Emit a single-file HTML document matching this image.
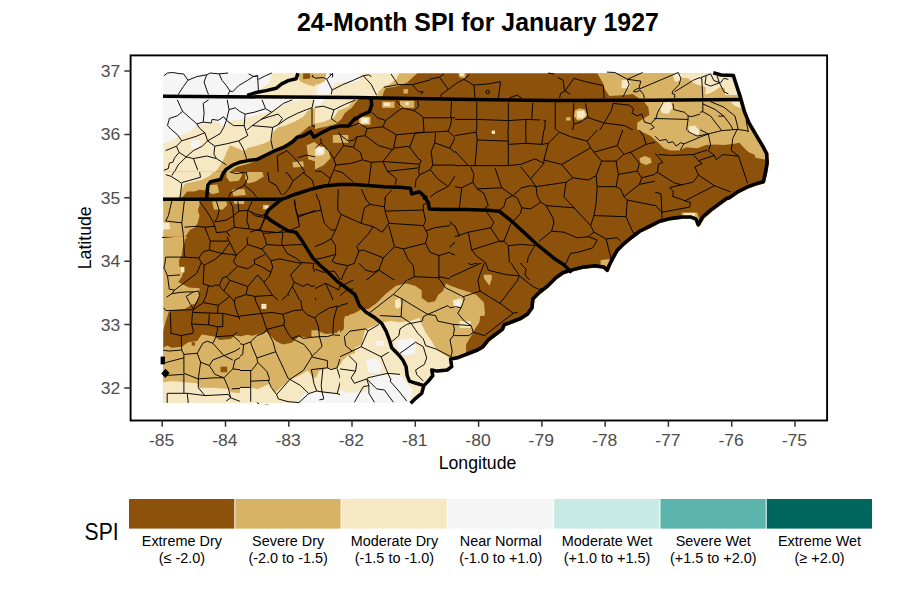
<!DOCTYPE html><html><head><meta charset="utf-8"><title>24-Month SPI</title><style>
html,body{margin:0;padding:0;background:#fff;}body{width:900px;height:600px;position:relative;overflow:hidden;font-family:"Liberation Sans",sans-serif;}
svg{position:absolute;left:0;top:0;}text{font-family:"Liberation Sans",sans-serif;}
</style></head><body>
<svg width="900" height="600" viewBox="0 0 900 600">
<rect width="900" height="600" fill="#fff"/>
<defs><mask id="landm" maskUnits="userSpaceOnUse" x="0" y="0" width="900" height="600"><polygon points="163.2,73.2 713.3,72.8 721.1,75.0 733.3,75.4 735.6,82.8 740.0,96.1 744.4,111.7 748.9,122.8 756.7,136.1 763.3,147.2 766.7,153.9 767.1,162.8 765.6,171.7 763.3,181.7 755.6,183.9 746.7,187.2 737.8,191.7 728.9,197.9 727.2,198.0 719.4,203.6 710.6,210.2 702.8,216.9 698.3,224.7 696.1,219.1 690.6,216.9 681.7,216.9 670.6,218.4 659.4,221.3 648.3,226.9 639.4,231.3 630.6,238.0 623.9,243.6 617.2,250.2 612.8,258.0 609.4,264.7 607.2,270.2 603.9,266.9 595.0,265.8 583.9,266.9 572.8,269.6 563.1,272.5 556.0,277.5 547.0,286.4 538.1,293.5 532.8,298.9 531.9,307.8 527.4,314.0 520.3,318.5 511.4,322.0 504.2,324.7 502.4,329.2 495.3,334.5 488.2,339.9 482.8,346.7 477.2,350.0 466.1,354.4 457.2,357.8 450.6,358.9 451.7,366.7 447.2,370.0 437.2,371.1 431.7,370.0 432.8,375.6 428.3,381.1 423.9,385.6 423.9,385.6 421.7,393.3 415.0,398.9 410.6,403.3 163.2,403.0" fill="#fff" stroke="#fff" stroke-width="4" stroke-linejoin="round"/></mask><clipPath id="rast"><rect x="163.2" y="73.2" width="620" height="329.8"/></clipPath><clipPath id="cA"><rect x="155.0" y="65.0" width="200.0" height="133.0"/></clipPath><clipPath id="h0"><path clip-rule="evenodd" d="M0 0H900V600H0ZM155.0 65.0H315.0V172.0H155.0Z"/></clipPath><clipPath id="h1"><path clip-rule="evenodd" d="M0 0H900V600H0ZM155.0 172.0H315.0V237.0H155.0Z"/></clipPath><clipPath id="h2"><path clip-rule="evenodd" d="M0 0H900V600H0ZM315.0 100.0H455.0V199.5H315.0Z"/></clipPath><clipPath id="h3"><path clip-rule="evenodd" d="M0 0H900V600H0ZM315.0 65.0H430.0V100.0H315.0Z"/></clipPath><clipPath id="cB"><rect x="355.0" y="65.0" width="200.0" height="133.0"/></clipPath><clipPath id="h4"><path clip-rule="evenodd" d="M0 0H900V600H0ZM455.0 130.0H655.0V263.0H455.0Z"/></clipPath><clipPath id="h5"><path clip-rule="evenodd" d="M0 0H900V600H0ZM540.0 65.0H700.0V130.0H540.0Z"/></clipPath><clipPath id="cC"><rect x="555.0" y="65.0" width="200.0" height="133.0"/></clipPath><clipPath id="h6"><path clip-rule="evenodd" d="M0 0H900V600H0ZM655.0 150.0H780.0V262.0H655.0Z"/></clipPath><clipPath id="cD"><rect x="755.0" y="65.0" width="125.0" height="133.0"/></clipPath><clipPath id="cE"><rect x="155.0" y="198.0" width="200.0" height="118.0"/></clipPath><clipPath id="h7"><path clip-rule="evenodd" d="M0 0H900V600H0ZM250.0 199.5H450.0V303.0H250.0Z"/></clipPath><clipPath id="h8"><path clip-rule="evenodd" d="M0 0H900V600H0ZM340.0 280.0H540.0V404.0H340.0Z"/></clipPath><clipPath id="h9"><path clip-rule="evenodd" d="M0 0H900V600H0ZM155.0 237.0H315.0V332.0H155.0Z"/></clipPath><clipPath id="h10"><path clip-rule="evenodd" d="M0 0H900V600H0ZM240.0 300.0H340.0V404.0H240.0Z"/></clipPath><clipPath id="cF"><rect x="355.0" y="198.0" width="200.0" height="118.0"/></clipPath><clipPath id="cG"><rect x="555.0" y="198.0" width="200.0" height="118.0"/></clipPath><clipPath id="cH"><rect x="155.0" y="316.0" width="200.0" height="117.0"/></clipPath><clipPath id="cI"><rect x="355.0" y="316.0" width="200.0" height="117.0"/></clipPath><clipPath id="cP1"><rect x="250.0" y="199.5" width="200.0" height="103.5"/></clipPath><clipPath id="cP2"><rect x="295.0" y="375.0" width="135.0" height="28.2"/></clipPath><clipPath id="cP3"><rect x="340.0" y="280.0" width="200.0" height="124.0"/></clipPath><clipPath id="cP4"><rect x="455.0" y="130.0" width="200.0" height="133.0"/></clipPath><clipPath id="cP5"><rect x="540.0" y="65.0" width="160.0" height="65.0"/></clipPath><clipPath id="cP6"><rect x="155.0" y="65.0" width="160.0" height="107.0"/></clipPath><clipPath id="cP7"><rect x="155.0" y="172.0" width="160.0" height="65.0"/></clipPath><clipPath id="cP8"><rect x="315.0" y="100.0" width="140.0" height="99.5"/></clipPath><clipPath id="cP9"><rect x="155.0" y="237.0" width="160.0" height="95.0"/></clipPath><clipPath id="cP10"><rect x="655.0" y="150.0" width="125.0" height="112.0"/></clipPath><clipPath id="cP12"><rect x="240.0" y="300.0" width="100.0" height="104.0"/></clipPath><clipPath id="cP13"><rect x="315.0" y="65.0" width="115.0" height="70.0"/></clipPath></defs>
<g clip-path="url(#rast)"><g mask="url(#landm)">
<rect x="150" y="60" width="650" height="360" fill="#8C510A"/>
<g clip-path="url(#cA)">
<polygon points="163.2,73.2 355.0,73.2 355.0,106.1 350.6,108.3 346.1,112.8 339.4,118.3 332.8,121.7 323.9,125.0 317.2,129.4 310.6,128.3 303.9,132.8 297.2,135.0 291.7,139.4 283.9,145.0 275.0,148.3 266.1,153.9 259.4,158.3 252.8,159.4 243.9,160.6 237.2,162.8 228.3,166.1 221.7,169.4 219.4,173.9 210.6,178.3 206.6,182.8 199.4,186.1 192.8,189.4 183.9,190.6 177.2,197.9 163.2,197.9" fill="#D8B365"/>
<polygon points="228.3,171.7 239.4,169.4 252.8,169.4 261.7,171.7 263.9,176.1 255.0,180.6 243.9,182.8 230.6,181.7 226.1,176.1" fill="#D8B365"/>
<polygon points="208.3,186.1 219.4,185.0 219.4,195.0 209.4,196.1" fill="#D8B365"/>
<polygon points="299.4,140.6 310.6,138.3 315.0,142.8 321.7,147.2 328.3,149.4 330.6,158.3 323.9,165.0 315.0,169.4 308.3,167.2 303.9,160.6 299.4,153.9 297.2,147.2" fill="#D8B365"/>
<polygon points="288.3,160.6 299.4,160.6 299.4,167.2 288.3,167.2" fill="#D8B365"/>
<polygon points="332.8,131.7 348.3,131.7 348.3,142.8 332.8,142.8" fill="#D8B365"/>
<polygon points="229.4,197.9 232.8,191.7 243.9,189.4 252.8,192.8 255.0,197.9" fill="#D8B365"/>
<polygon points="163.2,73.2 355.0,73.2 355.0,100.6 346.1,103.9 337.2,108.3 328.3,110.6 317.2,112.8 310.6,115.0 306.1,120.6 299.4,125.0 292.8,129.4 288.3,133.9 279.4,135.0 272.8,138.3 266.1,142.8 259.4,146.1 252.8,147.2 246.1,150.6 239.4,147.2 232.8,148.3 228.3,153.9 226.1,160.6 219.4,166.1 210.6,169.4 203.9,175.0 199.4,180.6 192.8,183.9 186.1,188.3 179.4,191.7 176.1,197.9 163.2,197.9" fill="#F6E8C3"/>
<polygon points="301.7,73.9 323.9,73.9 321.7,82.8 310.6,86.1 299.4,82.8" fill="#D8B365"/>
<polygon points="302.8,73.2 315.0,73.2 313.9,77.9 303.9,78.3" fill="#8C510A"/>
<polygon points="315.2,146.8 324.6,146.8 324.6,153.9 320.6,155.7 315.2,155.2" fill="#F6E8C3"/>
<polygon points="317.9,148.1 322.3,148.1 322.3,152.6 317.9,152.6" fill="#F5F5F5"/>
<polygon points="163.2,73.2 271.7,73.2 263.2,85.0 246.6,95.0 246.6,98.3 308.3,99.2 291.7,101.7 278.3,107.2 271.7,113.2 259.9,118.3 245.0,120.6 237.2,121.7 231.7,123.9 228.3,118.3 221.7,119.4 206.1,123.2 197.2,125.0 196.1,129.4 188.3,131.7 177.2,136.1 163.2,139.4" fill="#F5F5F5"/>
<polygon points="332.8,73.2 355.0,73.2 355.0,81.7 346.1,83.9 335.0,87.2 332.8,95.0 315.0,95.0 313.9,87.2 323.9,80.6" fill="#F5F5F5"/>
<polygon points="190.6,140.6 201.7,137.2 203.9,142.8 197.2,148.3 190.6,147.2" fill="#F5F5F5"/>
</g>
<g clip-path="url(#cB)">
<polygon points="355.0,73.2 419.4,73.2 415.0,77.2 408.3,81.7 403.9,86.1 395.0,88.3 388.3,89.4 383.9,93.9 377.2,95.0 368.3,96.1 355.0,106.1" fill="#D8B365"/>
<polygon points="355.0,73.2 399.4,73.2 395.0,78.3 388.3,80.6 381.7,83.9 375.0,87.2 366.1,90.6 361.7,93.9 355.0,96.1" fill="#F6E8C3"/>
<polygon points="355.0,75.0 361.7,73.9 363.9,78.3 359.4,85.0 355.0,87.2" fill="#F5F5F5"/>
<polygon points="381.7,101.7 395.0,101.7 395.0,107.2 381.7,107.2" fill="#D8B365"/>
<polygon points="382.8,102.3 388.3,102.3 388.3,106.1 382.8,106.1" fill="#F6E8C3"/>
<polygon points="399.4,100.6 415.0,100.6 415.0,108.3 399.4,108.3" fill="#D8B365"/>
<polygon points="405.0,101.7 409.4,101.7 409.4,106.1 405.0,106.1" fill="#F6E8C3"/>
<polygon points="359.4,116.1 370.6,116.1 370.6,123.9 359.4,123.9" fill="#D8B365"/>
<polygon points="361.2,117.2 367.9,117.2 367.9,122.3 361.2,122.3" fill="#F6E8C3"/>
<polygon points="362.8,117.9 366.1,117.9 366.1,121.0 362.8,121.0" fill="#F5F5F5"/>
<polygon points="458.3,73.2 466.1,73.2 465.0,78.3 459.4,77.2" fill="#D8B365"/>
<polygon points="459.4,73.2 464.3,73.2 463.9,76.1 460.1,76.1" fill="#F6E8C3"/>
<polygon points="491.7,130.6 495.0,130.6 495.0,133.9 491.7,133.9" fill="#F6E8C3"/>
<polygon points="403.9,89.4 408.3,89.4 408.3,93.9 403.9,93.9" fill="#D8B365"/>
</g>
<g clip-path="url(#cC)">
<polygon points="597.2,73.2 602.8,82.8 605.0,89.4 609.4,96.1 626.1,95.0 632.8,93.9 643.9,101.7 648.3,107.2 649.4,115.0 643.9,118.3 637.2,122.8 637.2,129.4 643.9,132.8 650.6,136.1 658.3,142.8 663.9,148.3 670.6,150.6 679.4,150.6 686.1,147.2 697.2,148.3 706.1,145.0 715.0,144.6 723.9,145.0 732.8,144.1 739.4,142.8 743.9,147.7 748.3,152.1 755.0,155.0 755.0,73.2" fill="#D8B365"/>
<polygon points="621.7,80.6 627.2,79.4 630.6,82.8 629.4,88.3 621.7,88.3" fill="#F6E8C3"/>
<polygon points="672.8,75.0 680.6,75.0 681.7,80.6 675.0,81.7" fill="#F6E8C3"/>
<polygon points="661.7,102.8 670.6,101.7 672.8,107.2 668.3,113.9 661.7,112.8 659.4,107.2" fill="#F6E8C3"/>
<polygon points="688.8,126.6 695.0,125.4 699.4,130.6 699.0,134.6 692.8,135.0 688.3,131.7" fill="#F6E8C3"/>
<polygon points="672.8,73.2 715.0,73.2 732.8,75.0 735.4,81.7 739.4,95.0 725.0,95.0 725.0,88.3 719.4,87.2 715.0,90.6 708.3,93.9 705.0,93.9 706.1,87.2 701.7,86.1 692.8,82.8 688.3,78.3 675.0,77.2" fill="#F6E8C3"/>
<polygon points="730.6,101.7 739.4,101.7 741.7,108.3 735.0,106.1" fill="#F6E8C3"/>
<polygon points="575.0,110.6 579.4,108.3 585.0,109.4 587.2,115.0 583.9,119.4 577.2,120.6 573.9,116.1" fill="#D8B365"/>
<polygon points="576.8,111.2 583.9,110.6 585.7,115.0 582.8,118.3 577.2,118.3" fill="#F6E8C3"/>
<polygon points="566.1,117.2 570.6,117.2 570.6,120.6 566.1,120.6" fill="#D8B365"/>
<polygon points="639.4,158.3 645.0,156.1 650.6,158.3 651.7,162.8 646.1,165.0 640.6,162.8" fill="#D8B365"/>
</g>
<g clip-path="url(#cD)">
<polygon points="680.0,73.2 780.0,73.2 780.0,159.4 764.4,159.4 757.8,158.3 751.1,156.1 744.4,152.8 740.0,146.1 733.3,143.9 724.4,146.1 708.9,147.2 702.2,146.1 693.3,148.3 680.0,149.4" fill="#D8B365"/>
<polygon points="688.9,73.2 713.3,73.2 733.3,75.4 736.0,82.8 739.6,95.0 724.4,95.0 724.4,88.3 715.6,87.2 706.7,92.8 704.9,93.9 705.6,87.2 697.8,85.0 693.3,78.3" fill="#F6E8C3"/>
<polygon points="731.1,101.7 738.9,101.7 741.1,108.3 735.6,106.1" fill="#F6E8C3"/>
</g>
<g clip-path="url(#cE)">
<polygon points="163.2,200.2 182.8,200.2 183.4,206.9 190.6,208.0 200.6,209.1 200.6,220.2 196.1,226.9 188.3,233.6 185.0,240.2 183.9,249.1 181.7,255.8 178.3,259.1 178.3,265.8 182.8,268.0 185.0,273.6 181.7,280.2 177.2,283.6 188.3,283.6 188.3,289.1 197.2,288.0 200.6,291.3 200.6,298.0 197.2,302.4 190.6,306.9 186.1,309.1 177.2,310.2 170.6,311.3 170.6,330.9 163.2,330.9" fill="#D8B365"/>
<polygon points="181.7,201.3 185.0,201.3 185.7,206.9 182.1,206.9" fill="#8C510A"/>
<polygon points="210.6,201.3 243.9,200.2 243.9,203.6 230.6,204.7 223.9,209.1 212.8,210.2" fill="#D8B365"/>
<polygon points="219.4,200.2 243.9,200.2 243.9,202.4 228.3,203.6 220.6,205.8" fill="#F6E8C3"/>
<polygon points="263.4,204.2 268.3,204.2 268.3,209.1 263.4,209.1" fill="#D8B365"/>
<polygon points="163.2,222.4 170.6,222.4 170.6,228.0 163.2,228.0" fill="#F6E8C3"/>
<polygon points="188.3,291.3 198.3,289.1 200.6,295.8 197.2,300.2 190.6,298.0" fill="#F6E8C3"/>
<polygon points="260.6,303.6 266.1,303.6 266.1,309.1 260.6,309.1" fill="#D8B365"/>
<polygon points="261.7,304.7 265.0,304.7 265.0,308.0 261.7,308.0" fill="#F6E8C3"/>
<polygon points="343.9,330.9 345.0,320.2 349.4,314.7 355.0,313.1 355.0,330.9" fill="#D8B365"/>
<polygon points="348.3,330.9 349.4,320.2 355.0,318.0 355.0,330.9" fill="#F6E8C3"/>
</g>
<g clip-path="url(#cF)">
<polygon points="355.0,313.1 361.7,309.1 368.3,309.1 377.2,302.4 386.1,293.6 396.1,285.8 406.1,283.6 415.0,285.8 421.7,290.2 421.7,298.0 428.3,302.4 435.0,301.3 438.3,294.7 442.8,291.3 446.1,283.6 450.6,285.8 459.4,289.1 470.6,292.4 476.1,294.7 483.9,302.4 485.0,313.6 481.7,322.4 483.9,330.9 355.0,330.9" fill="#D8B365"/>
<polygon points="395.0,300.2 399.4,298.0 401.7,304.7 398.3,309.1 395.0,306.9" fill="#F6E8C3"/>
<polygon points="452.8,300.2 460.6,298.0 463.9,302.4 459.4,308.0 453.9,308.0" fill="#F6E8C3"/>
<polygon points="455.0,302.0 459.4,300.7 460.6,304.7 456.1,305.8" fill="#F5F5F5"/>
<polygon points="383.9,330.9 386.1,324.7 395.0,325.8 402.8,330.9" fill="#F6E8C3"/>
<polygon points="459.4,322.4 468.3,320.2 475.0,324.7 476.1,330.9 459.4,330.9" fill="#F6E8C3"/>
<polygon points="355.0,318.0 361.7,319.1 363.9,330.9 355.0,330.9" fill="#F6E8C3"/>
<polygon points="483.9,274.7 491.7,274.7 491.7,279.1 489.4,285.8 486.1,281.3 483.9,278.0" fill="#D8B365"/>
</g>
<g clip-path="url(#cG)">
<polygon points="681.7,212.4 697.2,212.4 699.4,220.2 695.0,222.4 681.7,220.2" fill="#D8B365"/>
<polygon points="683.9,213.1 695.0,213.1 695.0,215.8 683.9,215.8" fill="#F6E8C3"/>
<polygon points="600.6,260.2 609.4,259.1 609.4,266.9 600.6,265.8" fill="#D8B365"/>
</g>
<g clip-path="url(#cH)">
<polygon points="163.2,300.0 188.3,300.0 186.1,310.0 170.6,312.2 169.4,324.4 163.2,325.6" fill="#D8B365"/>
<polygon points="163.2,347.8 167.2,345.6 171.7,347.8 181.7,346.7 188.3,342.2 197.2,341.1 201.7,334.4 208.3,335.6 215.0,336.7 219.4,340.0 230.6,338.9 235.0,335.6 243.9,336.7 252.8,333.3 263.9,333.3 270.6,340.0 279.4,344.4 286.1,343.3 290.6,340.0 297.2,337.8 301.7,335.6 310.6,336.7 319.4,335.6 323.9,333.3 330.6,334.4 339.4,333.3 343.9,328.9 343.9,320.0 346.1,312.2 355.0,310.0 355.0,402.9 163.2,402.9" fill="#D8B365"/>
<polygon points="260.6,303.3 266.1,303.3 266.1,308.9 260.6,308.9" fill="#F6E8C3"/>
<polygon points="310.6,330.0 318.3,330.0 318.3,336.7 310.6,336.7" fill="#D8B365"/>
<polygon points="220.6,366.7 227.2,366.7 227.2,372.2 220.6,372.2" fill="#8C510A"/>
<polygon points="191.7,342.2 195.0,342.2 195.0,345.6 191.7,345.6" fill="#8C510A"/>
<polygon points="163.2,382.2 172.8,381.1 183.9,382.2 197.2,383.3 199.4,387.8 212.8,387.8 228.3,388.9 230.6,392.2 239.4,393.3 250.6,391.1 250.6,386.7 259.4,385.6 268.3,386.7 270.6,391.1 276.1,394.4 283.9,386.7 292.8,380.0 299.4,376.7 310.6,375.6 312.8,371.1 323.9,370.0 330.6,368.9 339.4,366.7 342.8,360.0 348.3,355.6 355.0,353.3 355.0,402.9 163.2,402.9" fill="#F6E8C3"/>
<polygon points="299.4,397.8 303.9,393.3 310.6,390.0 319.4,391.1 328.3,388.9 339.4,388.9 348.3,393.3 355.0,395.6 355.0,402.9 299.4,402.9" fill="#F5F5F5"/>
</g>
<g clip-path="url(#cI)">
<polygon points="355.0,310.0 363.9,307.8 372.8,304.4 380.6,300.0 486.1,300.0 480.6,313.3 479.4,322.2 475.0,328.9 470.6,336.7 466.1,344.4 466.1,353.3 466.1,366.7 455.0,403.3 355.0,403.3" fill="#D8B365"/>
<polygon points="355.0,347.8 361.7,344.4 365.0,330.0 377.2,324.4 382.8,322.2 390.6,321.1 399.4,322.2 410.6,321.1 419.4,317.8 421.7,324.4 426.1,333.3 431.7,341.1 436.1,348.9 443.9,354.4 450.6,358.9 461.7,366.7 455.0,403.3 355.0,403.3" fill="#F6E8C3"/>
<polygon points="396.1,300.0 402.1,300.0 402.8,306.7 397.2,308.9" fill="#F6E8C3"/>
<polygon points="453.9,300.0 461.7,300.0 461.7,305.6 455.0,305.6" fill="#F6E8C3"/>
<polygon points="459.4,321.1 470.6,321.1 470.6,327.8 459.4,327.8" fill="#F6E8C3"/>
<polygon points="395.0,341.1 412.8,337.8 416.1,344.4 415.0,353.3 406.1,355.6 399.4,352.2" fill="#F5F5F5"/>
<polygon points="366.1,360.0 377.2,357.8 381.7,366.7 379.4,373.3 368.3,372.2" fill="#F5F5F5"/>
<polygon points="368.3,375.6 399.4,374.4 408.3,384.4 412.8,388.9 410.6,397.8 406.1,403.3 368.3,403.3 363.9,393.3 370.6,384.4" fill="#F5F5F5"/>
<polygon points="376.1,341.1 383.9,341.1 383.9,345.6 376.1,345.6" fill="#F5F5F5"/>
</g>
<g clip-path="url(#cP1)">
</g>
<g clip-path="url(#cP2)">
<polygon points="300.0,403.3 303.3,396.7 313.3,391.7 326.7,389.3 343.3,393.3 366.7,391.7 380.0,386.7 390.0,380.0 400.0,376.7 408.3,386.7 411.7,403.3" fill="#F5F5F5"/>
</g>
<g clip-path="url(#cP3)">
</g>
<g clip-path="url(#cP4)">
</g>
<g clip-path="url(#cP5)">
</g>
<g clip-path="url(#cP6)">
<polygon points="155.0,65.0 315.5,65.0 315.5,172.0 155.0,172.0" fill="#8C510A"/>
<polygon points="162.1,73.0 315.0,73.0 315.0,123.9 308.4,126.5 301.3,132.8 294.1,138.1 287.0,143.5 278.1,148.8 270.9,152.4 262.0,157.8 254.9,161.3 247.8,164.0 237.1,166.7 229.9,171.7 162.1,171.7" fill="#D8B365"/>
<polygon points="162.1,73.0 315.0,73.0 315.0,107.8 308.4,110.5 303.1,116.7 294.1,122.1 285.2,125.6 278.1,127.4 272.7,132.8 271.8,139.9 263.8,143.5 254.9,146.2 247.8,147.9 244.2,151.5 237.1,147.9 229.9,145.3 226.4,152.4 222.8,161.3 215.6,171.7 162.1,171.7" fill="#F6E8C3"/>
<polygon points="297.7,73.0 315.0,73.0 315.0,86.4 306.6,84.6 299.5,81.1" fill="#D8B365"/>
<polygon points="303.1,73.0 310.2,73.0 310.2,78.4 303.1,79.3" fill="#8C510A"/>
<polygon points="162.1,73.0 271.8,73.0 269.2,82.8 262.0,88.2 247.8,95.0 247.8,98.9 315.0,98.9 301.3,100.1 290.6,101.9 279.9,106.4 272.7,110.0 262.0,113.5 254.9,115.3 244.2,118.9 229.9,120.7 223.7,126.9 217.4,121.5 204.9,124.2 195.1,126.0 190.7,131.4 180.0,135.8 172.8,140.3 162.1,143.8" fill="#F5F5F5"/>
<polygon points="190.7,140.8 199.6,139.9 199.6,147.9 191.6,148.8" fill="#F5F5F5"/>
<polygon points="306.6,145.3 315.0,141.7 315.0,161.3 308.4,159.5" fill="#D8B365"/>
<polygon points="292.4,162.2 303.1,161.3 303.9,166.7 293.2,167.6" fill="#D8B365"/>
</g>
<g clip-path="url(#cP7)">
<polygon points="155.0,130.0 315.5,130.0 315.5,237.0 155.0,237.0" fill="#8C510A"/>
<polygon points="162.1,165.7 229.9,165.7 223.7,171.9 221.0,178.2 210.3,180.8 206.7,187.1 204.9,190.6 199.6,189.8 194.2,191.5 187.1,191.5 184.4,195.1 181.8,197.8 162.1,197.8" fill="#D8B365"/>
<polygon points="162.1,165.7 221.0,165.7 213.9,171.9 208.5,176.4 201.4,179.9 194.2,181.7 185.3,183.5 181.8,188.9 180.0,194.2 178.2,197.8 162.1,197.8" fill="#F6E8C3"/>
<polygon points="162.1,198.7 199.6,198.7 199.6,204.9 197.8,210.3 199.6,215.6 197.8,222.8 195.1,227.2 189.8,229.9 185.3,236.7 162.1,236.7" fill="#D8B365"/>
<polygon points="162.1,222.8 169.3,222.8 170.2,229.0 162.1,229.9" fill="#F6E8C3"/>
<polygon points="226.4,170.1 238.8,170.1 239.7,172.8 242.4,174.6 238.8,180.8 229.9,181.7 226.4,177.3" fill="#D8B365"/>
<polygon points="246.0,170.1 262.0,170.7 263.8,176.4 254.9,181.7 247.8,183.5 245.1,178.2" fill="#D8B365"/>
<polygon points="208.5,185.3 217.4,184.4 219.2,192.4 212.1,194.2 208.5,191.5" fill="#D8B365"/>
<polygon points="231.7,189.8 244.2,188.9 246.0,195.1 233.5,196.0" fill="#D8B365"/>
<polygon points="212.1,201.4 226.4,201.4 227.2,204.9 222.8,209.4 213.9,209.4" fill="#D8B365"/>
<polygon points="233.5,200.5 244.2,200.5 244.2,204.0 234.4,204.0" fill="#D8B365"/>
<polygon points="262.9,204.9 269.2,204.9 269.2,209.4 262.9,209.4" fill="#D8B365"/>
<polygon points="264.7,205.8 267.4,205.8 267.4,208.5 264.7,208.5" fill="#F6E8C3"/>
<polygon points="292.4,162.1 303.1,162.1 303.1,168.4 294.1,167.5" fill="#D8B365"/>
</g>
<g clip-path="url(#cP8)">
</g>
<g clip-path="url(#cP9)">
<polygon points="155.0,225.0 315.5,225.0 315.5,332.0 155.0,332.0" fill="#8C510A"/>
<polygon points="162.1,225.0 195.1,225.0 190.7,232.1 185.3,239.3 182.6,248.2 181.8,255.3 179.1,259.8 179.1,266.0 184.4,269.6 181.8,276.7 178.2,282.1 188.9,287.4 199.6,288.3 199.6,296.4 195.1,303.5 190.7,305.3 185.3,308.8 178.2,309.7 169.3,310.6 165.7,321.3 163.0,331.7 162.1,331.7" fill="#D8B365"/>
<polygon points="162.1,225.0 170.2,225.0 169.3,228.6 162.1,228.6" fill="#F6E8C3"/>
<polygon points="180.9,266.9 184.4,266.9 184.4,272.3 180.9,272.3" fill="#F6E8C3"/>
<polygon points="261.1,304.4 266.5,304.4 266.5,308.8 261.1,308.8" fill="#D8B365"/>
<polygon points="310.2,329.4 315.5,328.5 315.5,332.0 310.2,332.0" fill="#D8B365"/>
</g>
<g clip-path="url(#cP10)">
</g>
<g clip-path="url(#cP12)">
<polygon points="240.0,300.0 400.5,300.0 400.5,407.0 240.0,407.0" fill="#8C510A"/>
<polygon points="240.0,336.6 247.1,334.8 252.5,335.7 263.2,333.0 266.8,332.1 275.7,341.0 282.8,344.6 291.7,342.8 298.9,336.6 311.4,337.5 318.5,331.2 325.6,333.9 336.3,333.0 343.5,326.8 347.0,316.1 354.2,312.5 361.3,310.7 361.3,407.0 240.0,407.0" fill="#D8B365"/>
<polygon points="240.0,387.4 250.7,387.4 257.8,389.2 269.4,383.8 274.8,392.8 281.0,387.4 289.9,379.4 300.6,374.9 307.8,370.5 313.1,378.5 316.7,376.7 318.5,371.4 325.6,368.7 336.3,368.7 341.7,362.4 347.0,355.3 354.2,351.7 361.3,348.2 361.3,407.0 240.0,407.0" fill="#F6E8C3"/>
<polygon points="298.9,403.5 301.5,396.3 309.6,391.9 316.7,391.9 323.8,393.6 336.3,394.5 347.0,397.2 354.2,403.5" fill="#F5F5F5"/>
<polygon points="261.4,303.9 266.4,303.9 266.4,308.9 261.4,308.9" fill="#F6E8C3"/>
<polygon points="311.4,330.3 318.5,330.3 318.5,336.6 311.4,336.6" fill="#D8B365"/>
</g>
<g clip-path="url(#cP13)">
<polygon points="300.0,65.0 460.5,65.0 460.5,172.0 300.0,172.0" fill="#8C510A"/>
<polygon points="300.0,72.1 418.6,72.1 411.5,78.4 407.0,82.8 396.3,86.4 385.6,88.2 383.8,91.8 382.1,97.5 300.0,97.5" fill="#D8B365"/>
<polygon points="300.0,84.6 317.8,84.6 325.0,81.1 326.8,72.1 399.9,72.1 396.3,79.3 389.2,84.6 383.8,86.4 378.5,91.8 376.7,97.5 300.0,97.5" fill="#F6E8C3"/>
<polygon points="326.8,72.1 362.4,72.1 358.9,81.1 335.7,82.8 332.1,88.2 330.3,94.4 316.1,94.4 317.8,86.4 325.0,81.1" fill="#F5F5F5"/>
<polygon points="300.0,97.5 359.8,97.5 351.7,107.8 344.6,113.2 341.9,118.5 335.7,123.9 326.8,126.5 317.8,128.3 310.7,131.0 300.0,133.7" fill="#D8B365"/>
<polygon points="300.0,97.5 355.3,97.5 348.2,106.9 338.4,110.5 333.9,117.6 323.2,122.1 312.5,123.9 307.1,127.4 300.0,127.4" fill="#F6E8C3"/>
<polygon points="300.0,97.5 325.0,97.5 321.4,103.4 310.7,107.8 300.0,109.6" fill="#F5F5F5"/>
<polygon points="382.1,101.6 394.5,101.6 394.5,107.8 382.1,107.8" fill="#D8B365"/>
<polygon points="383.8,102.5 390.1,102.5 390.1,106.0 383.8,106.0" fill="#F6E8C3"/>
<polygon points="399.9,100.7 414.2,100.7 414.2,107.8 399.9,107.8" fill="#D8B365"/>
<polygon points="405.2,102.1 408.8,102.1 408.8,105.1 405.2,105.1" fill="#F6E8C3"/>
<polygon points="358.9,116.7 370.5,116.7 370.5,124.8 358.9,124.8" fill="#D8B365"/>
<polygon points="360.6,117.6 368.7,117.6 368.7,123.5 360.6,123.5" fill="#F6E8C3"/>
<polygon points="363.3,119.0 366.9,119.0 366.9,122.1 363.3,122.1" fill="#F5F5F5"/>
<polygon points="403.5,89.1 407.9,89.1 407.9,93.5 403.5,93.5" fill="#D8B365"/>
</g>
</g></g>
<g fill="none" stroke="#000" stroke-width="0.95" stroke-linejoin="round">
<g clip-path="url(#cA)"><g clip-path="url(#h0)"><g clip-path="url(#h1)"><g clip-path="url(#h2)"><g clip-path="url(#h3)">
<path d="M165.0 77.2 L168.3 73.9 L175.0 72.8 L179.4 74.3 L183.9 73.9 L188.3 80.1 L185.0 85.0 L181.2 90.6 L178.3 95.0M188.3 80.1 L196.1 77.2 L202.8 75.0 L207.2 76.1M207.2 73.9 L205.0 81.7 L208.3 88.3 L210.6 95.0M208.3 75.0 L219.4 73.9 L222.8 79.4 L227.2 86.1 L229.4 91.7 L231.7 95.0M219.4 73.9 L228.3 73.2M229.4 91.7 L236.1 86.1 L243.9 80.6 L252.8 77.2 L257.7 76.1 L258.3 73.2M257.7 76.1 L258.3 87.2 L257.9 92.8M248.3 73.9 L253.9 76.6 L257.7 76.1M259.4 77.2 L266.1 75.0 L271.7 73.9M178.3 98.3 L180.6 106.1 L182.8 110.6 L177.2 115.0 L169.4 118.3 L167.2 125.0 L171.7 129.4 L177.2 135.0 L181.7 140.6 L188.3 138.3 L201.7 133.9M182.8 110.6 L190.6 118.3 L196.1 123.9 L202.8 120.6 L210.6 118.3 L209.4 112.8 L203.9 109.4 L202.8 101.7 L209.4 98.3M210.6 118.3 L221.7 117.2 L226.1 116.1 L230.6 108.3 L227.2 98.3M230.6 108.3 L238.3 111.7 L246.1 112.8 L252.8 111.7 L263.9 108.3 L270.6 110.6M263.9 108.3 L261.7 101.7 L263.9 98.3M246.1 112.8 L245.0 123.9 L243.9 129.4M226.1 116.1 L232.8 123.9 L240.6 125.0 L245.0 123.9M245.0 123.9 L252.8 119.4 L263.9 117.2 L270.6 110.6M270.6 110.6 L277.2 118.3 L280.6 121.7 L290.6 117.2 L301.7 112.8 L310.6 108.3 L311.7 98.3M310.6 108.3 L319.4 106.1 L328.3 105.0 L339.4 100.6 L355.0 98.3M328.3 98.3 L332.8 108.3 L330.6 118.3 L335.0 122.8M310.6 108.3 L312.8 122.8 L311.7 129.4M277.2 118.3 L275.0 126.1 L271.7 133.9 L270.6 147.2M243.9 129.4 L252.8 131.7 L263.9 133.9 L271.7 133.9M196.1 123.9 L203.9 131.7 L208.3 139.4 L215.0 146.1 L228.3 143.9 L240.6 140.6 L246.1 136.1 L243.9 129.4M221.7 133.9 L228.3 127.2 L240.6 125.0M163.2 150.6 L175.0 146.1 L188.3 141.7 L201.7 133.9 L208.3 139.4M208.3 139.4 L199.4 147.2 L190.6 153.9 L186.1 157.2 L179.4 151.7 L175.0 146.1M215.0 146.1 L213.9 158.3 L226.1 162.8 L229.4 163.9M240.6 140.6 L243.9 149.4 L246.1 158.3 L247.2 161.7M163.2 169.4 L168.3 167.2 L171.7 160.6 L177.2 158.3 L179.4 151.7M186.1 157.2 L192.8 158.3 L197.2 169.4 L199.4 180.6 L201.7 182.8M192.8 158.3 L203.9 155.0 L213.9 158.3M163.2 181.7 L168.3 175.0 L171.7 173.9 L179.4 179.4 L181.7 182.8 L179.4 189.4 L177.2 197.9M171.7 173.9 L177.2 165.0 L186.1 157.2M179.4 179.4 L188.3 180.6 L199.4 180.6M270.6 167.2 L275.0 162.8 L281.7 160.6 L288.3 163.9 L297.2 169.4 L301.7 173.9 L302.8 179.4 L293.9 180.6 L288.3 185.0 L279.4 180.6 L270.6 178.3 L267.2 172.8 L270.6 167.2M263.9 156.1 L268.3 162.8 L270.6 167.2M288.3 150.6 L297.2 156.1 L306.1 162.8 L308.3 169.4 L302.8 173.9M308.3 169.4 L319.4 172.8 L326.1 169.4 L332.8 167.2 L335.0 162.8 L332.8 153.9 L328.3 149.4 L332.8 140.6 L330.6 131.7M332.8 167.2 L339.4 171.7 L348.3 172.8 L355.0 169.4M335.0 162.8 L343.9 160.6 L350.6 153.9 L355.0 152.8M302.8 179.4 L310.6 189.4 L313.9 195.0M288.3 185.0 L290.6 191.7 L288.3 197.9M319.4 172.8 L317.2 180.6 L321.7 186.1M267.2 172.8 L257.2 176.1 L250.6 171.7M250.6 171.7 L246.1 180.6 L242.8 188.3M279.4 180.6 L276.1 186.1 L272.8 192.8 L271.7 197.9M252.8 188.3 L259.4 182.8 L267.2 180.6 L270.6 178.3M339.4 171.7 L337.2 180.6 L338.3 185.0M348.3 108.3 L352.8 112.8 L355.0 115.0M345.0 129.4 L348.3 138.3 L352.8 140.6M339.4 188.3 L339.4 197.9M232.8 197.9 L239.4 190.6 L246.1 188.3 L252.8 195.0 L255.0 197.9M228.3 171.7 L235.0 176.1 L242.8 173.9 L250.6 171.7M323.9 73.9 L330.6 80.6 L333.9 89.4 L332.8 95.0M330.6 73.2 L333.9 75.0 L332.8 77.2"/>
</g></g></g></g></g>
<g clip-path="url(#cB)"><g clip-path="url(#h4)"><g clip-path="url(#h5)"><g clip-path="url(#h2)"><g clip-path="url(#h3)">
<path d="M355.0 80.6 L363.9 75.0 L370.6 73.9 L371.7 76.1M359.4 76.1 L368.3 82.8 L375.0 93.9M390.6 73.2 L399.4 85.0 L383.9 87.2M412.8 85.0 L421.7 80.6 L439.4 77.2 L443.9 73.9M439.4 77.2 L448.3 89.4 L440.6 95.0 L441.7 98.3M448.3 89.4 L457.2 82.8 L463.9 79.4 L469.4 75.0M463.9 79.4 L473.9 85.0 L475.0 98.3M473.9 85.0 L488.3 83.9 L500.6 81.7 L498.3 98.3M412.8 85.0 L419.4 93.9 L421.7 91.7M509.4 97.9 L517.2 95.0 L521.7 98.3M548.3 73.2 L555.0 74.3M371.7 105.0 L383.9 112.8 L393.9 115.0 L400.6 109.4 L408.3 108.3 L415.0 109.4 L418.3 107.2 L419.4 100.6M418.3 107.2 L422.8 116.1 L423.9 131.7M383.9 126.1 L393.9 115.0M368.3 127.2 L383.9 126.1 L395.0 133.9 L415.0 131.7 L423.9 131.7 L448.3 131.7M423.9 119.4 L443.9 118.3 L451.7 119.4 L450.6 101.7M451.7 119.4 L477.2 119.4 L508.3 120.6 L526.1 119.4 L555.0 120.6M476.8 101.7 L476.8 140.6 L475.0 166.1M508.3 102.8 L508.3 166.1M532.8 102.8 L531.7 119.4M526.1 119.4 L525.0 142.8M545.0 120.6 L542.8 142.8M508.3 145.0 L525.0 143.9 L542.8 142.8 L555.0 142.8M476.8 140.6 L492.8 141.7 L508.3 141.7M448.3 131.7 L455.0 136.1 L466.1 133.9 L476.8 132.8M455.0 136.1 L448.3 149.4 L452.8 152.8 L459.4 158.3 L466.1 165.0M435.0 132.8 L435.0 142.8 L448.3 149.4M435.0 142.8 L430.6 153.9 L432.8 165.0 L433.9 166.1M415.0 131.7 L409.4 145.0 L415.0 152.8 L420.6 158.3 L419.4 166.1M395.0 133.9 L393.9 147.2 L408.3 146.1M393.9 147.2 L382.8 162.8 L419.4 165.0M419.4 166.1 L466.1 166.1 L508.3 166.1 L519.4 165.0M355.0 136.1 L366.1 135.0 L368.3 127.2M366.1 135.0 L383.9 148.3 L390.6 150.6M355.0 150.6 L361.7 160.6 L370.6 161.7 L382.8 162.8M370.6 161.7 L371.7 185.0M382.8 162.8 L388.3 173.9 L395.0 180.6 L396.1 186.1M388.3 173.9 L418.3 171.7 L419.4 166.1M418.3 171.7 L415.0 180.6 L416.1 186.8M430.6 167.2 L437.2 178.3 L446.1 186.1 L459.4 166.1M446.1 186.1 L452.8 188.3 L461.7 187.2 L470.6 188.3 L475.0 176.1 L470.6 167.2M415.0 180.6 L428.3 185.0 L437.2 193.9 L446.1 186.1M493.9 167.2 L497.2 180.6 L499.4 187.2M475.0 187.2 L488.3 188.3 L499.4 187.2 L506.1 191.7 L510.6 196.1M519.4 165.0 L530.6 179.4 L539.4 186.1 L555.0 182.8M519.4 165.0 L532.8 159.4 L542.8 162.8 L530.6 179.4M542.8 162.8 L548.3 149.4 L550.6 143.9M510.6 196.1 L523.9 187.2 L539.4 186.1M461.7 187.2 L460.6 197.9M475.0 188.3 L486.1 192.8 L488.3 197.9M539.4 186.1 L536.1 193.9 L539.4 197.9M355.0 162.8 L361.7 160.6M361.7 188.3 L365.0 197.9M391.7 189.4 L389.4 197.9M426.1 197.9 L437.2 193.9"/>
<circle cx="487.7" cy="92.1" r="1.8"/>
<circle cx="420.6" cy="93.2" r="1.1"/>
</g></g></g></g></g>
<g clip-path="url(#cC)"><g clip-path="url(#h4)"><g clip-path="url(#h5)"><g clip-path="url(#h6)">
<path d="M558.3 77.2 L563.9 80.6 L563.9 91.7 L560.6 93.9M563.9 91.7 L570.6 95.0M563.9 91.7 L573.9 78.3 L583.9 81.7 L603.9 86.1M603.9 86.1 L602.8 98.3M607.2 72.1 L615.0 72.8 L628.3 79.4 L642.8 72.8M628.3 79.4 L640.6 80.6 L638.3 89.4 L633.9 91.7 L641.7 92.8 L643.9 98.3M640.6 80.6 L678.3 72.8 L680.6 78.3 L676.1 89.4 L671.7 91.7 L675.0 93.9 L673.9 99.4M623.9 96.1 L633.9 91.7M676.1 89.4 L688.3 87.2 L701.7 77.2 L710.6 73.9M701.7 77.2 L702.8 98.3M706.1 76.1 L705.0 83.9 L710.6 86.1 L719.4 82.8 L723.9 91.7 L728.3 93.9M710.6 73.9 L713.9 80.6 L720.6 82.8 L723.9 78.3 L728.3 79.4M719.4 82.8 L717.2 76.1M663.9 102.8 L656.1 117.2 L650.6 123.9M650.6 123.9 L653.9 128.3 L646.1 131.7 L652.8 133.9 L659.4 140.6 L666.1 139.4 L668.3 142.8 L672.8 141.7 L676.1 146.1 L680.6 142.8 L683.9 143.9 L679.4 151.7M650.6 123.9 L666.1 120.6 L686.1 119.4 L688.3 115.0 L697.2 112.8 L702.8 111.7M672.8 100.6 L673.9 108.3 L688.3 115.0M686.1 119.4 L688.3 131.7 L697.2 136.1 L708.3 133.9 L721.7 130.6 L737.2 129.4 L746.1 130.6M697.2 112.8 L696.1 122.8 L699.4 129.4 L708.3 133.9M702.8 101.7 L702.8 111.7 L710.6 116.1 L721.7 130.6M702.8 103.9 L715.0 109.4 L723.9 116.1 L730.6 125.0 L732.8 129.4M710.6 101.7 L723.9 107.2 L735.0 116.1 L738.3 129.4M718.3 116.1 L723.9 116.1M683.9 143.9 L697.2 138.3 L708.3 133.9M708.3 133.9 L710.6 145.0 L707.2 153.9M737.2 129.4 L732.8 138.3 L730.6 156.1M746.1 120.6 L748.3 131.7 L746.1 130.6M612.8 102.8 L630.6 105.0 L633.9 112.8 L641.7 116.1 L643.9 118.3M612.8 102.8 L609.4 116.1 L602.8 122.8 L595.0 138.3 L589.4 147.2M586.1 102.8 L588.3 116.1 L579.4 120.6 L572.8 125.0 L570.6 132.8M573.9 102.8 L573.9 109.4M602.8 122.8 L623.9 126.1 L630.6 126.1 L641.7 116.1M623.9 126.1 L618.3 142.8 L626.1 153.9 L645.0 142.8 L647.2 140.6 L643.9 131.7M555.0 130.6 L561.7 133.9 L570.6 132.8 L588.3 145.0 L589.4 147.2M589.4 147.2 L595.0 150.6 L617.2 142.8M589.4 147.2 L555.0 163.9M595.0 150.6 L601.7 160.6 L617.2 161.7 L626.1 153.9M601.7 160.6 L595.0 176.1 L588.3 180.6 L575.0 181.7 L563.9 171.7 L555.0 163.9M617.2 161.7 L616.1 171.7 L619.4 175.0 L630.6 175.0 L638.3 170.6 L639.4 162.8M645.0 142.8 L657.2 152.8 L660.6 162.8 L658.3 169.4 L652.8 176.1 L640.6 180.6 L638.3 170.6M657.2 152.8 L670.6 156.1 L679.4 151.7 L692.8 155.0 L697.2 162.8 L695.0 168.3 L699.4 176.1 L692.8 185.0 L679.4 183.9 L670.6 181.7 L661.7 176.1 L658.3 169.4M692.8 155.0 L707.2 153.9 L715.0 159.4 L730.6 156.1 L739.4 158.3 L743.9 171.7 L748.3 185.0M699.4 176.1 L715.0 185.0 L728.3 193.9M670.6 181.7 L675.0 189.4 L683.9 197.9M640.6 180.6 L637.2 185.0 L652.8 191.7 L661.7 197.9M616.1 171.7 L617.2 187.2 L621.7 197.9M595.0 176.1 L596.1 185.0 L608.3 188.3 L617.2 187.2M575.0 181.7 L565.0 186.1 L562.8 197.9M596.1 185.0 L596.1 197.9M555.0 180.6 L565.0 186.1M692.8 185.0 L688.3 197.9M715.0 185.0 L699.4 193.9 L692.8 197.9"/>
</g></g></g></g>
<g clip-path="url(#cD)"><g clip-path="url(#h6)">
<path d="M734.4 133.9 L746.7 131.7 L748.9 123.9M734.4 133.9 L731.1 142.8 L730.0 156.1 L740.0 158.3 L747.8 185.0"/>
</g></g>
<g clip-path="url(#cE)"><g clip-path="url(#h7)"><g clip-path="url(#h8)"><g clip-path="url(#h1)"><g clip-path="url(#h9)"><g clip-path="url(#h10)">
<path d="M171.7 201.3 L169.4 211.3 L166.1 219.1 L171.7 222.4 L183.9 223.6 L183.9 235.8 L163.2 237.6M183.9 235.8 L209.4 238.0M183.9 223.6 L185.0 208.0 L186.1 202.4M198.3 201.3 L206.1 213.6 L211.7 221.3 L213.9 225.8 L205.0 228.0 L209.4 238.0 L210.6 250.2 L199.4 256.9 L202.8 263.6M213.9 225.8 L218.3 214.7 L220.6 209.1 L219.4 201.3M218.3 214.7 L226.1 220.2 L233.9 215.8 L236.1 211.3M236.1 202.4 L239.4 211.3 L247.2 212.4 L252.8 214.7 L259.4 211.3 L266.1 208.0M233.9 215.8 L235.0 226.9 L239.4 230.2 L248.3 230.2 L252.8 214.7M213.9 225.8 L226.1 234.7 L228.3 241.3 L210.6 241.3M226.1 234.7 L239.4 230.2M248.3 230.2 L252.8 232.4 L262.8 231.3 L266.1 221.3 L265.4 215.8M262.8 231.3 L263.9 242.4 L272.8 245.8 L281.7 242.4 L283.9 233.6 L279.4 225.8M252.8 232.4 L247.2 240.2 L249.4 243.6 L263.9 251.3 L266.1 255.8 L261.7 260.2 L253.9 263.6M228.3 241.3 L230.6 245.8 L221.7 252.4 L210.6 250.2M221.7 252.4 L236.1 255.8 L240.6 252.4 L249.4 243.6M236.1 255.8 L233.9 262.4 L240.6 268.0 L253.9 263.6M202.8 263.6 L209.4 262.4 L218.3 259.1 L221.7 252.4M202.8 263.6 L203.9 284.7 L208.3 285.8M209.4 262.4 L215.0 271.3 L226.1 276.9 L229.4 274.7 L240.6 268.0M229.4 274.7 L246.1 285.8 L256.1 274.7 L248.3 269.1 L240.6 268.0M253.9 263.6 L270.6 270.2 L272.8 264.7 L267.2 259.1M256.1 274.7 L270.6 278.0 L270.6 270.2M270.6 270.2 L278.3 262.4 L283.9 260.2 L299.4 262.4 L310.6 256.9M281.7 242.4 L283.9 249.1 L299.4 244.7 L303.9 241.3M283.9 249.1 L283.9 260.2M270.6 278.0 L263.9 281.3 L275.0 296.9 L281.7 302.4 L288.3 296.9 L290.6 282.4 L289.4 276.9M289.4 276.9 L297.2 266.9 L310.6 264.7 L315.0 262.4M289.4 276.9 L306.1 285.8 L312.8 286.9 L325.0 284.7 L332.8 281.3M290.6 282.4 L299.4 284.7 L301.7 293.6 L297.2 295.8 L288.3 296.9M301.7 293.6 L310.6 291.3 L315.0 303.6 L325.0 306.9 L332.8 302.4M312.8 286.9 L316.1 298.0 L315.0 303.6M325.0 284.7 L330.6 295.8 L332.8 302.4 L343.9 295.8 L350.6 291.3M226.1 276.9 L221.7 285.8 L218.3 286.9 L228.3 292.4 L231.7 295.8 L246.1 293.6 L245.0 285.8M208.3 285.8 L215.0 285.8 L218.3 286.9M208.3 285.8 L205.0 298.0 L201.7 303.6 L219.4 306.9M231.7 295.8 L219.4 306.9 L215.0 313.6 L192.8 312.4M231.7 295.8 L236.1 304.7 L238.3 314.7M246.1 293.6 L255.0 296.9 L275.0 296.9M255.0 296.9 L256.1 313.6 L238.3 314.7M256.1 313.6 L271.7 313.6 L281.7 302.4M271.7 313.6 L283.9 321.3 L303.9 311.3 L315.0 303.6M303.9 311.3 L310.6 318.0 L325.0 306.9M310.6 318.0 L319.4 330.9M283.9 321.3 L287.2 330.9M261.7 314.7 L265.0 326.9 L266.1 330.9M238.3 314.7 L243.9 322.4 L248.3 330.9M192.8 312.4 L193.9 322.4 L191.7 330.9M193.9 322.4 L209.4 322.4 L221.7 322.4 L221.7 330.9M209.4 313.6 L209.4 330.9M163.2 262.4 L166.1 258.0 L177.2 256.9 L182.8 255.8M163.2 274.7 L168.3 275.8 L179.4 273.6M168.3 275.8 L168.3 289.1 L173.9 290.2 L186.1 281.3 L202.8 263.6M173.9 290.2 L166.1 296.9 L163.2 298.0M173.9 291.3 L186.1 293.6 L188.3 300.2 L192.8 309.1 L192.8 312.4M163.2 311.3 L170.6 311.3M281.7 242.4 L292.8 229.1 L296.1 232.4M292.8 229.1 L296.1 211.3 L293.9 200.2M298.3 221.3 L321.7 211.3 L319.4 200.2M321.7 211.3 L323.9 223.6 L332.8 231.3 L339.4 218.0 L337.2 200.2M339.4 218.0 L355.0 211.3M332.8 231.3 L308.3 245.8 L307.2 249.1M332.8 231.3 L330.6 240.2 L336.1 246.9 L337.2 254.7 L332.8 258.0 L319.4 256.9 L312.8 258.0M337.2 254.7 L355.0 264.7M332.8 258.0 L346.1 264.7 L343.9 273.6 L339.4 281.3M355.0 231.3 L343.9 238.0 L336.1 246.9M333.9 313.6 L346.1 304.7 L350.6 291.3M333.9 313.6 L335.0 330.9M310.6 318.0 L328.3 309.1 L333.9 313.6"/>
</g></g></g></g></g></g>
<g clip-path="url(#cF)"><g clip-path="url(#h7)"><g clip-path="url(#h8)"><g clip-path="url(#h4)">
<path d="M365.0 198.0 L370.6 204.7 L363.9 222.4 L355.0 224.7M370.6 204.7 L383.9 206.9 L385.0 198.0M383.9 206.9 L385.0 211.3 L421.7 211.3 L423.9 198.0M385.0 211.3 L389.4 224.7 L421.7 226.9 L425.0 220.2 L421.7 211.3M363.9 222.4 L373.9 229.1 L381.7 232.4 L389.4 224.7M389.4 224.7 L393.9 246.9 L388.3 256.9 L382.8 258.0 L361.7 250.2 L355.0 255.8M373.9 229.1 L355.0 249.1M393.9 246.9 L403.9 250.2 L426.1 244.7 L429.4 239.1 L421.7 226.9M429.4 239.1 L431.7 231.3 L443.9 231.3 L446.1 225.8 L451.7 223.6 L443.9 212.4 L441.7 210.2M451.7 223.6 L458.3 229.1 L460.6 238.0 L450.6 245.8 L448.3 252.4 L439.4 255.8 L432.8 254.7 L426.1 244.7M460.6 238.0 L470.6 235.8 L490.6 228.0 L493.9 220.2 L483.9 211.3M490.6 228.0 L493.9 231.3 L499.4 242.4 L510.6 224.7 L508.3 220.2M499.4 242.4 L479.4 252.4 L476.1 256.9 L485.0 261.3 L470.6 264.7 L459.4 256.9 L448.3 252.4M460.6 238.0 L468.3 239.1 L471.7 249.1 L476.1 256.9M439.4 255.8 L438.3 278.0 L445.0 289.1M403.9 250.2 L412.8 258.0 L415.0 269.1 L411.7 275.8 L419.4 276.9 L438.3 278.0M382.8 258.0 L379.4 269.1 L366.1 272.4 L359.4 266.9 L355.0 255.8M379.4 269.1 L397.2 281.3 L406.1 283.6M355.0 288.0 L379.4 269.1M411.7 275.8 L392.8 293.6 L401.7 298.0 L428.3 313.6 L447.2 304.7 L452.8 308.0M438.3 278.0 L448.3 284.7 L445.0 289.1 L439.4 294.7M485.0 261.3 L448.3 278.0 L438.3 278.0M485.0 261.3 L479.4 275.8 L475.0 291.3 L470.6 293.6M485.0 261.3 L488.3 270.2 L506.1 274.7 L519.4 275.8M499.4 242.4 L508.3 245.8 L510.6 262.4 L519.4 275.8M508.3 245.8 L526.1 243.6 L535.0 245.8M535.0 245.8 L526.1 260.2 L520.6 263.6 L526.1 269.1 L525.0 274.7 L529.4 280.2M519.4 275.8 L513.9 288.0 L499.4 304.7 L475.0 291.3M519.4 275.8 L535.0 288.0 L543.9 289.1M499.4 304.7 L517.2 311.3 L523.9 313.6M445.0 289.1 L458.3 306.9 L466.1 313.6 L475.0 324.7 L479.4 330.9M401.7 298.0 L401.7 318.0 L383.9 314.7 L372.8 319.1M428.3 313.6 L420.6 320.2 L401.7 318.0M420.6 320.2 L422.8 330.9M428.3 313.6 L437.2 319.1 L452.8 322.4 L453.9 330.9M458.3 306.9 L463.9 298.0 L470.6 293.6M517.2 311.3 L510.6 318.0 L492.8 330.9M399.4 330.9 L410.6 323.6 L420.6 320.2M555.0 226.9 L551.7 222.4 L553.9 211.3 L548.3 204.7 L539.4 198.0M523.9 232.4 L539.4 220.2 L551.7 222.4M510.6 220.2 L519.4 213.6 L521.7 209.1 L518.3 198.0M519.4 213.6 L539.4 202.4 L548.3 204.7M487.2 198.0 L488.3 204.7 L483.9 210.2M458.3 198.0 L459.4 209.1M505.0 198.0 L502.8 206.9 L499.4 211.3"/>
</g></g></g></g>
<g clip-path="url(#cG)"><g clip-path="url(#h4)"><g clip-path="url(#h6)">
<path d="M565.0 198.0 L586.1 218.0 L595.0 232.4 L590.6 236.9 L577.2 239.1 L563.9 233.6 L555.0 232.4M597.2 198.0 L595.0 209.1 L593.9 215.8 L597.2 216.9 L626.1 215.8 L627.2 198.0M597.2 216.9 L589.4 225.8 L595.0 232.4M626.1 215.8 L633.9 231.3M627.2 201.3 L643.9 204.7 L652.8 203.6 L661.7 214.7 L662.8 198.0M661.7 214.7 L662.8 219.1M661.7 211.3 L679.4 208.0 L689.4 206.9 L688.3 200.2 L681.7 198.0M595.0 232.4 L597.2 239.1 L606.1 244.7 L610.6 258.0M597.2 239.1 L581.7 248.0 L572.8 252.4 L568.3 260.2 L565.0 264.7M606.1 239.1 L613.9 238.0 L621.7 241.3M555.0 208.0 L568.3 208.0"/>
</g></g></g>
<g clip-path="url(#cH)"><g clip-path="url(#h8)"><g clip-path="url(#h9)"><g clip-path="url(#h10)">
<path d="M163.2 350.0 L168.3 351.1 L181.7 350.0 L183.9 354.4 L197.2 353.3 L202.8 343.3 L207.2 341.1M181.7 350.0 L181.2 335.6 L170.6 333.3 L170.6 312.2M181.2 335.6 L192.8 333.3 L193.9 326.7 L191.7 322.2 L192.8 313.3 L193.9 308.9M192.8 313.3 L208.3 314.4 L219.4 312.2 L221.7 300.0M208.3 314.4 L208.3 325.6 L193.9 326.7M208.3 325.6 L217.2 326.7 L221.7 328.9 L222.8 313.3M217.2 326.7 L216.1 336.7 L212.8 343.3 L207.2 341.1M222.8 313.3 L232.8 313.3 L238.3 318.9 L242.8 327.8 L232.8 335.6 L216.1 336.7M232.8 300.0 L238.3 316.7M242.8 327.8 L248.3 331.1 L263.9 332.2 L270.6 340.0M253.9 300.0 L252.8 314.4 L239.4 316.7M252.8 314.4 L261.7 314.4 L281.7 315.6 L285.0 321.1 L300.6 312.2 L306.1 311.1M261.7 314.4 L265.0 328.9 L275.0 351.1 L290.6 378.9M265.0 328.9 L279.4 325.6 L285.0 321.1M279.4 325.6 L291.7 342.2 L295.0 340.0M306.1 311.1 L301.7 300.0M306.1 311.1 L310.6 306.7 L319.4 304.4 L323.9 300.0M306.1 311.1 L315.0 322.2 L319.4 328.9 L319.4 335.6M315.0 316.7 L323.9 310.0 L337.2 305.6 L339.4 300.0M337.2 305.6 L335.0 322.2 L332.8 333.3M332.8 333.3 L323.9 336.7 L321.7 345.6 L319.4 347.8 L315.0 354.4 L310.6 350.0 L306.1 344.4 L295.0 340.0M332.8 335.6 L343.9 336.7 L346.1 344.4 L355.0 350.0M315.0 354.4 L328.3 357.8 L327.2 366.7 L330.6 368.9 L337.2 366.7 L343.9 355.6 L355.0 350.0M315.0 354.4 L310.6 357.8 L306.1 368.9 L290.6 378.9 L276.1 394.4 L275.0 397.8M310.6 368.9 L315.0 383.3 L313.9 388.9 L319.4 391.1 L323.9 367.8M319.4 391.1 L323.9 392.2 L325.0 397.8M339.4 368.9 L340.6 384.4 L337.2 393.3M350.6 371.1 L353.9 382.2 L355.0 384.4M290.6 378.9 L299.4 384.4 L310.6 390.0M276.1 394.4 L288.3 401.1 L299.4 398.9 L310.6 390.0M275.0 351.1 L258.3 360.0 L252.8 346.7 L243.9 345.6 L232.8 335.6M258.3 360.0 L263.9 366.7 L270.6 375.6M243.9 345.6 L235.0 351.1 L223.9 355.6 L212.8 343.3M243.9 345.6 L248.3 353.3 L235.0 360.0 L232.8 368.9 L250.6 371.1 L250.6 380.0 L251.7 398.9M223.9 355.6 L232.8 360.0M223.9 355.6 L212.8 360.0 L209.4 365.6 L215.0 374.4 L223.9 377.8 L232.8 368.9M197.2 353.3 L200.6 362.2 L209.4 365.6M200.6 362.2 L198.3 378.9 L213.9 377.8 L223.9 377.8M183.9 354.4 L183.9 373.3 L198.3 378.9M163.2 363.3 L183.9 357.8M163.2 375.6 L183.9 374.4 L183.9 393.3M198.3 378.9 L198.3 387.8 L205.0 395.6 L228.3 394.4 L230.6 397.8 L226.1 401.1M223.9 377.8 L228.3 387.8 L230.6 397.8M250.6 380.0 L268.3 381.1 L270.6 375.6 L266.1 368.9 L256.1 363.3M268.3 381.1 L271.7 391.1 L276.1 394.4M231.7 388.9 L250.6 387.8M167.2 393.3 L167.2 402.9M187.2 393.3 L188.3 402.9M167.2 393.3 L187.2 393.3 L205.0 395.6M259.4 398.9 L260.6 403.3 L268.3 404.0M343.9 402.9 L348.3 397.8 L355.0 396.7M230.6 397.8 L239.4 401.1 L251.7 398.9"/>
</g></g></g></g>
<g clip-path="url(#cI)"><g clip-path="url(#h8)">
<path d="M402.8 300.0 L401.7 315.6 L380.6 316.7M402.8 300.0 L415.0 303.3 L427.2 314.4 L448.3 305.6 L453.9 307.8 L461.7 305.6 L459.4 300.0M427.2 314.4 L422.8 316.7 L409.4 323.3 L400.6 328.9 L399.4 335.6 L391.7 341.1M400.6 353.3 L417.2 341.1 L423.9 347.8 L427.2 355.6 L426.1 364.4 L415.0 371.1 L416.1 375.6 L422.8 382.2M432.8 315.6 L443.9 321.1 L452.8 322.2 L453.9 328.9 L450.6 341.1 L452.8 351.1 L452.8 355.6M453.9 334.4 L470.6 335.6 L472.8 328.9 L470.6 324.4 L461.7 321.1M453.9 307.8 L459.4 316.7 L472.8 328.9M472.8 328.9 L483.9 335.6 L515.0 311.1 L519.4 310.0M490.6 300.0 L499.4 305.6 L515.0 311.1M355.0 328.9 L365.0 330.0 L361.7 344.4 L355.0 347.8M365.0 330.0 L381.7 323.3M361.7 344.4 L381.7 356.7 L388.3 352.2M381.7 356.7 L388.3 374.4 L405.0 375.6M388.3 374.4 L366.1 378.9 L355.0 371.1M388.3 376.7 L392.8 384.4 L406.1 397.8M366.1 378.9 L365.0 386.7 L355.0 397.8M365.0 386.7 L368.3 395.6 L373.9 402.2M371.7 385.6 L377.2 390.0 L388.3 391.1 L391.7 397.8 L398.3 403.3M390.6 381.1 L405.0 374.4M409.4 323.3 L417.2 330.0 L423.9 338.9 L423.9 347.8"/>
</g></g>
<g clip-path="url(#cP1)"><g clip-path="url(#h8)"><g clip-path="url(#h9)"><g clip-path="url(#h10)">
<path d="M294.4 197.8 L295.6 210.0 L297.8 215.6 L298.9 221.1M297.8 215.6 L307.8 213.3 L321.1 210.0M314.4 195.6 L318.9 200.0 L321.1 210.0 L324.4 223.3 L331.1 230.0 L335.6 230.0M338.9 187.8 L337.8 198.9 L337.8 210.0 L341.1 214.4 L335.6 230.0M341.1 214.4 L361.1 223.3 L364.4 207.8 L370.0 204.4 L365.6 198.9 L362.2 188.9M370.0 204.4 L384.4 206.7 L385.6 197.8 L391.1 190.0M384.4 206.7 L385.6 213.3 L388.9 223.3 L382.2 232.2 L373.3 226.7 L361.1 223.3M385.6 211.1 L423.3 210.0 L423.3 204.4 L427.8 203.3M423.3 210.0 L425.6 221.1 L423.3 225.6 L388.9 223.3M423.3 225.6 L427.8 234.4 L425.6 243.3 L403.3 248.9 L394.4 246.7 L388.9 225.6M425.6 231.1 L434.4 227.8 L450.0 225.6M425.6 243.3 L430.0 252.2 L438.9 255.6 L450.0 252.2M438.9 255.6 L438.9 276.7 L450.0 278.9M373.3 226.7 L367.8 234.4 L356.7 246.7 L358.9 251.1 L363.3 250.0 L383.3 257.8 L394.4 246.7M335.6 230.0 L331.1 238.9 L335.6 245.6 L335.6 254.4 L332.2 261.1 L335.6 263.3 L347.8 265.6 L354.4 263.3 L358.9 251.1M331.1 238.9 L323.3 243.3 L308.9 248.9 L304.4 252.2M335.6 254.4 L323.3 257.8 L316.7 258.9M383.3 257.8 L378.9 270.0 L373.3 272.2 L365.6 270.0 L358.9 263.3M347.8 265.6 L343.3 274.4 L341.1 281.1M378.9 270.0 L392.2 278.9 L401.1 283.3 L414.4 276.7 L413.3 265.6 L407.8 258.9 L403.3 248.9M414.4 276.7 L438.9 277.8M401.1 283.3 L383.3 297.8 L378.9 302.9M354.4 290.0 L378.9 270.0M438.9 276.7 L441.1 292.2 L432.2 302.9M263.3 233.3 L282.2 232.2 L284.4 246.7 L265.6 244.4 L263.3 233.3M282.2 232.2 L296.7 231.1M284.4 246.7 L301.1 244.4M265.6 244.4 L264.4 253.3 L256.7 258.9 L250.0 257.8M264.4 253.3 L278.9 260.0 L283.3 255.6 L284.4 246.7M283.3 255.6 L303.3 263.3 L312.2 262.2M278.9 260.0 L272.2 267.8 L271.1 274.4 L255.6 265.6 L256.7 258.9M272.2 267.8 L291.1 272.2 L303.3 263.3M291.1 272.2 L294.4 283.3 L312.2 290.0 L314.4 268.9 L312.2 262.2M271.1 274.4 L265.6 281.1 L255.6 276.7 L250.0 270.0M265.6 281.1 L272.2 278.9 L291.1 285.6 L294.4 283.3M314.4 268.9 L323.3 272.2 L334.4 271.1 L341.1 281.1M250.0 232.2 L260.0 228.9 L263.3 233.3M260.0 228.9 L265.6 217.8M250.0 211.1 L254.4 215.6 L265.6 217.8M250.0 281.1 L256.7 290.0 L264.4 287.8 L265.6 281.1M264.4 287.8 L267.8 302.9M291.1 285.6 L287.8 294.4 L290.0 302.9M312.2 290.0 L316.7 302.9M312.2 290.0 L325.6 283.3 L338.9 290.0 L341.1 281.1M325.6 283.3 L334.4 302.9M287.8 294.4 L303.3 297.8 L312.2 290.0"/>
</g></g></g></g>
<g clip-path="url(#cP2)">
<path d=""/>
</g>
<g clip-path="url(#cP3)">
<path d="M393.3 294.4 L401.1 286.7 L406.7 280.0M393.3 294.4 L402.2 298.9 L411.1 304.4 L427.8 314.4 L447.8 305.6 L450.0 307.8 L455.6 306.7 L461.1 307.8 L464.4 298.9 L463.3 296.7M368.9 313.3 L393.3 294.4M380.0 315.6 L401.1 316.7 L402.2 298.9M401.1 316.7 L411.1 323.3 L422.2 321.1 L423.3 316.7 L427.8 314.4M427.8 314.4 L435.6 315.6 L437.8 321.1 L453.3 324.4 L454.4 328.9 L453.3 335.6 L450.0 340.0 L452.2 351.1 L451.1 356.7M453.3 324.4 L471.1 325.6 L473.3 332.2 L468.9 335.6 L453.3 335.6M461.1 307.8 L457.8 313.3 L464.4 321.1 L471.1 325.6M473.3 332.2 L484.4 335.6 L513.3 313.3 L517.8 312.2M463.3 296.7 L473.3 293.3 L480.0 291.1 L500.0 303.3 L513.3 313.3M500.0 303.3 L517.8 280.0M440.0 280.0 L445.6 287.8 L463.3 296.7M411.1 323.3 L417.8 333.3 L423.3 338.9 L425.6 345.6 L435.6 348.9 L451.1 356.7M391.1 342.2 L398.9 335.6 L400.0 328.9 L406.7 324.4 L411.1 323.3M400.0 353.3 L415.6 342.2 L423.3 346.7 L426.7 357.8 L424.4 364.4 L415.6 370.0 L416.7 374.4 L423.3 381.1M340.0 305.6 L347.8 303.3M344.4 336.7 L350.0 331.1 L365.6 328.9 L367.8 331.1 L361.1 346.7 L352.2 351.1 L345.6 345.6 L344.4 336.7M367.8 331.1 L378.9 324.4M361.1 346.7 L381.1 356.7 L388.9 352.2M352.2 351.1 L340.0 356.7M381.1 356.7 L387.8 373.3 L400.0 374.4M387.8 373.3 L367.8 377.8 L366.7 378.9M348.9 355.6 L356.7 363.3 L355.6 371.1 L340.0 368.9M355.6 371.1 L351.1 377.8 L354.4 383.3 L366.7 378.9 L368.9 385.6 L363.3 386.7 L354.4 402.2M368.9 385.6 L368.9 393.3 L374.4 402.2M366.7 378.9 L376.7 388.9 L384.4 390.0 L393.3 402.2M390.0 381.1 L398.9 391.1 L406.7 401.1M387.8 373.3 L391.1 380.0 L390.0 381.1M340.0 286.7 L353.3 280.0M340.0 295.6 L346.7 290.0 L353.3 288.9M524.4 280.0 L533.3 286.7 L540.0 290.0M480.0 291.1 L477.8 280.0"/>
</g>
<g clip-path="url(#cP4)">
<path d="M476.1 130.0 L477.2 140.0 L475.0 165.6M477.2 140.0 L508.3 141.1 L507.9 130.0M508.3 141.1 L508.3 165.6M455.0 165.6 L475.0 165.6 L508.3 165.6 L520.6 164.4 L535.0 158.9 L543.9 163.3 L530.6 178.9M525.7 130.0 L526.1 143.3 L508.3 144.4M526.1 143.3 L541.7 144.4 L543.9 130.0M541.7 144.4 L548.3 143.3 L555.0 136.7 L559.4 132.2 L557.2 130.0M548.3 143.3 L543.9 160.0 L543.9 163.3M559.4 132.2 L570.6 136.7 L587.2 141.1 L590.6 147.8 L561.7 164.4 L543.9 160.0M561.7 164.4 L572.8 177.8 L566.1 182.2 L536.1 186.7 L530.6 178.9 L520.6 166.7M572.8 177.8 L588.3 180.0 L596.1 175.6 L601.7 161.1 L593.9 152.2 L590.6 147.8M593.9 152.2 L617.2 145.6 L623.9 154.4 L616.1 161.1 L601.7 161.1M587.2 141.1 L597.2 130.0M617.2 145.6 L622.8 130.0M623.9 154.4 L630.6 152.2 L646.1 144.4 L655.0 142.2M646.1 144.4 L643.9 136.7 L639.4 130.0M616.1 161.1 L618.3 174.4 L637.2 171.1 L639.4 163.3 L630.6 152.2M618.3 174.4 L616.1 186.7 L620.6 188.9 L623.9 196.7 L639.4 184.4 L641.7 177.8 L637.2 171.1M639.4 184.4 L655.0 181.1M641.7 177.8 L655.0 174.4M596.1 175.6 L597.2 186.7 L616.1 186.7M597.2 186.7 L596.1 203.3 L593.9 215.6 L626.1 216.7 L627.2 200.0 L623.9 196.7M627.2 200.0 L655.0 205.6M626.1 216.7 L632.8 232.2 L637.2 234.4M593.9 215.6 L590.6 225.6 L575.0 208.9 L563.9 196.7 L566.1 182.2M590.6 225.6 L593.9 232.2 L588.3 236.7 L577.2 237.8 L563.9 232.2 L551.7 231.1 L539.4 241.1M536.1 186.7 L537.2 195.6 L540.6 202.2 L546.1 205.6 L552.8 217.8 L553.9 222.2 L551.7 231.1M546.1 205.6 L573.9 207.8 L575.0 208.9M540.6 202.2 L530.6 208.9 L521.7 207.8 L517.2 197.8 L512.8 195.6 L506.1 198.9 L503.9 206.7 L499.4 210.0M512.8 195.6 L521.7 187.8 L530.6 185.6 L536.1 186.7M512.8 195.6 L501.7 187.8 L495.0 167.8M501.7 187.8 L477.2 188.9 L472.8 182.2 L473.9 174.4 L470.6 166.7M477.2 188.9 L483.9 193.3 L488.3 205.6 L483.9 208.9M461.7 187.8 L459.4 207.8M455.0 186.7 L461.7 187.8 L472.8 182.2M521.7 207.8 L520.6 213.3 L510.6 224.4 L503.9 241.1 L500.6 242.2M455.0 236.7 L468.3 232.2 L490.6 227.8 L493.9 222.2 L486.1 211.1M490.6 227.8 L499.4 241.1 L503.9 241.1M468.3 232.2 L471.7 250.0 L477.2 256.7M471.7 250.0 L499.4 241.1M503.9 241.1 L508.3 245.6 L521.7 244.4 L535.0 245.6M508.3 245.6 L509.4 262.9M535.0 245.6 L528.3 256.7 L527.2 262.9M593.9 232.2 L606.1 238.9 L617.2 237.8 L620.6 241.1M606.1 238.9 L610.6 256.7 L611.7 262.9M588.3 236.7 L597.2 240.0 L592.8 247.8 L578.3 252.2 L570.6 253.3 L566.1 262.9M455.0 151.1 L468.3 165.6M455.0 135.6 L476.1 132.2M455.0 225.6 L459.4 236.7M477.2 256.7 L483.9 261.1 L486.1 262.9"/>
</g>
<g clip-path="url(#cP5)">
<path d="M548.0 73.0 L554.3 73.9M557.8 77.5 L563.2 80.2 L564.1 88.2 L565.0 90.9 L560.5 93.5 L559.6 98.0M565.0 90.9 L570.3 94.4M565.0 90.9 L573.9 78.4 L586.4 81.9 L603.3 85.5 L604.2 98.0M606.9 72.1 L614.9 72.5 L627.4 79.3 L642.6 72.5M627.4 79.3 L640.8 81.1 L639.0 88.2 L634.5 90.0 L633.6 91.8 L637.2 91.8 L639.9 90.0 L643.5 94.4 L644.4 98.0M627.4 79.3 L629.2 84.6 L625.6 91.8 L622.9 97.1M639.0 89.1 L672.9 74.8 L678.2 72.5 L680.9 78.4 L679.1 84.6 L672.9 90.9 L672.0 93.5 L674.7 94.4 L674.7 98.0M674.7 91.8 L693.4 80.2 L700.0 77.5M555.2 102.5 L555.2 129.2 L558.7 131.0M573.9 103.4 L573.0 118.5 L573.9 123.9 L572.1 131.9M585.5 103.4 L587.3 113.2 L588.2 117.6 L604.2 123.0 L611.4 110.5 L613.1 103.4M573.9 123.9 L581.0 122.1 L583.7 119.4 L588.2 117.6M613.1 103.4 L629.2 105.1 L633.6 108.7 L631.9 113.2 L637.2 115.8 L641.7 114.1 L643.5 118.5 L644.4 122.1 L650.6 123.9 L654.2 127.4 L647.0 131.9M604.2 123.0 L624.7 125.6 L636.3 131.9M543.6 120.3 L545.4 120.3 L543.6 143.5M663.1 102.5 L657.7 112.3 L655.9 118.5 L650.6 123.9M672.9 103.4 L673.8 109.6 L684.5 112.3 L688.1 115.8 L691.6 116.7 L700.0 114.1M654.2 118.5 L688.1 119.4 L688.1 115.8M688.1 119.4 L686.3 131.9 L692.5 136.4M604.2 123.0 L593.5 139.9 L589.1 145.3M558.7 131.0 L575.7 135.5 L587.3 141.7 L589.1 145.3"/>
</g>
<g clip-path="url(#cP6)">
<path d="M163.9 75.7 L167.5 73.0 L172.8 72.5 L179.1 73.6 L183.5 73.9 L188.0 80.2 L183.5 86.4 L178.2 94.4M188.0 80.2 L196.9 76.6 L206.7 74.8M206.7 74.8 L204.1 81.9 L206.7 90.0 L208.5 94.4M206.7 74.8 L210.3 73.0 L219.2 73.9 L221.9 80.2 L226.4 85.5 L229.9 90.9 L232.6 91.8M219.2 73.9 L228.1 73.0M229.9 90.9 L227.2 96.2M232.6 91.8 L238.8 85.5 L247.8 80.2 L253.1 76.6 L257.6 75.7 L258.5 91.8M248.6 73.9 L254.0 76.6 L257.6 75.7M258.5 79.3 L265.6 75.7 L271.8 73.0M177.3 99.8 L180.9 107.8 L182.6 111.4 L177.3 115.8 L169.3 118.5 L167.5 125.6 L171.9 130.1 L177.3 134.6 L181.8 140.8M182.6 111.4 L190.7 118.5 L196.9 123.9 L203.2 122.1 L204.1 113.2 L203.2 103.4 L208.5 99.8M196.9 123.9 L199.6 128.3 L204.9 132.8 L207.6 140.8M203.2 122.1 L211.2 123.0 L212.1 119.4 L218.3 120.3 L223.7 116.7 L226.4 120.3 L229.0 109.6 L227.2 99.8M229.0 109.6 L235.3 107.8 L239.7 111.4 L245.1 114.1 L254.0 112.3 L265.6 108.7 L262.0 99.8M245.1 114.1 L244.2 125.6 L246.0 131.0M226.4 120.3 L233.5 125.6 L244.2 125.6M226.4 120.3 L223.7 127.4 L220.1 133.7M181.8 140.8 L196.0 136.4 L202.3 133.7 L204.9 132.8M207.6 140.8 L220.1 133.7M207.6 140.8 L214.8 146.2 L228.1 143.5 L238.8 140.8 L247.8 135.5 L246.0 131.0M265.6 108.7 L271.8 112.3 L261.1 119.4 L252.2 125.6 L246.9 130.1M261.1 119.4 L269.2 116.7 L278.1 114.1 L282.5 118.5 L278.1 124.8 L272.7 127.4 L252.2 125.6M271.8 112.3 L283.4 103.4 L292.4 99.8M278.1 124.8 L287.0 118.5 L297.7 113.2 L306.6 109.6 L312.0 107.8 L313.8 99.8M272.7 127.4 L270.9 139.9 L272.7 148.8M238.8 140.8 L243.3 148.8 L246.9 159.5M214.8 146.2 L213.9 154.2 L216.5 158.6 L226.4 164.9M181.8 140.8 L176.4 146.2 L165.7 150.6M176.4 146.2 L179.1 152.4 L186.2 156.9 L193.4 150.6 L202.3 146.2 L207.6 140.8M186.2 156.9 L193.4 158.6 L197.8 170.2M193.4 158.6 L206.7 156.0 L216.5 158.6M179.1 152.4 L174.6 157.8 L172.8 162.2 L169.3 163.1 L168.4 168.5 L163.9 170.2M186.2 156.9 L178.2 164.9 L174.6 171.7M312.0 107.8 L312.0 125.6 L315.0 126.5M278.1 171.7 L277.2 156.0 L287.0 150.6M287.0 150.6 L297.7 161.3 L304.8 171.7M297.7 157.8 L306.6 155.1 L315.0 156.9M315.0 77.5 L312.0 76.6 L312.9 74.8"/>
</g>
<g clip-path="url(#cP7)">
<path d="M165.7 174.6 L171.1 176.4 L178.2 180.8 L181.8 183.5 L180.0 197.8M186.2 156.8 L192.5 157.6 L199.6 171.9 L200.5 177.3 L181.8 182.6M192.5 157.6 L206.7 156.8 L215.6 159.4 L226.4 164.8M165.7 168.4 L169.3 166.6 L171.1 162.1 L174.6 160.3 L175.5 155.0 L179.1 152.3M179.1 152.3 L186.2 156.8 L178.2 164.8 L171.9 175.5M171.9 200.5 L168.4 215.6 L165.7 221.0 L181.8 222.8 L184.4 200.5M181.8 222.8 L183.5 236.7M199.6 201.4 L208.5 213.8 L213.0 221.9 L214.8 226.3 L204.9 227.2 L196.0 226.3 L184.4 227.2M216.5 201.4 L219.2 210.3 L217.4 217.4 L214.8 221.9M214.8 221.9 L226.4 220.1 L233.5 215.6 L232.6 206.7 L229.9 201.4M233.5 215.6 L234.4 227.2 L226.4 231.7 L216.5 232.6 L214.8 226.3M237.9 201.4 L238.8 211.2 L233.5 215.6M238.8 211.2 L247.8 210.3 L252.2 201.4M247.8 210.3 L246.9 221.0 L249.5 229.0 L234.4 227.2M247.8 210.3 L254.9 213.8 L262.0 215.6 L265.6 213.8M249.5 229.0 L260.2 230.8 L263.8 219.2 L265.6 216.5M260.2 230.8 L269.2 231.7 L278.1 232.6 L283.4 229.9M204.9 227.2 L208.5 236.7M226.4 231.7 L229.9 236.7M229.9 171.9 L236.2 173.7 L246.0 171.9 L252.2 171.0M246.0 171.9 L247.8 178.2 L244.2 185.3 L229.9 193.3 L229.0 196.9M244.2 185.3 L251.3 190.6 L256.7 196.9M267.4 169.2 L277.2 166.6 L278.1 156.8M267.4 169.2 L269.2 181.7 L276.3 185.3 L281.7 195.1M277.2 166.6 L287.0 172.8 L293.2 180.8 L288.8 188.9 L283.4 195.1M293.2 180.8 L303.1 172.8 L297.7 155.0M303.1 172.8 L312.0 179.9 L315.0 188.9M303.1 172.8 L308.4 170.1 L315.0 171.0M294.1 199.6 L297.7 217.4 L315.0 210.3M297.7 217.4 L299.5 226.3 L290.6 229.9"/>
</g>
<g clip-path="url(#cP8)">
<path d="M300.0 110.7 L310.7 108.0 L323.2 106.2 L333.9 109.8 L344.6 104.5 L355.3 100.0M310.7 108.0 L312.5 125.0M333.9 109.8 L331.2 118.7 L336.6 122.3M372.2 112.5 L377.6 117.8 L385.6 120.5 L397.2 111.6 L402.6 108.0 L396.3 100.9M402.6 108.0 L414.2 110.7 L418.6 106.2 L417.7 100.9M414.2 110.7 L423.1 116.9 L424.0 132.1 L415.1 133.0 L396.3 134.8 L382.9 126.8 L385.6 120.5M424.0 117.8 L450.7 117.8 L451.6 100.9M450.7 117.8 L460.0 117.8M448.1 131.2 L450.7 125.0 L451.6 117.8M415.1 133.0 L448.1 131.2 L455.2 137.5 L460.0 135.7M455.2 137.5 L449.8 148.2 L460.0 157.1M435.6 133.0 L434.7 142.8 L449.8 148.2M434.7 142.8 L431.1 151.7 L432.9 165.1 L460.0 165.1M415.1 133.0 L409.7 147.3 L418.6 158.9 L421.3 160.6 L419.5 164.2M396.3 134.8 L393.6 148.2 L407.0 146.4 L409.7 147.3M393.6 148.2 L382.9 161.5 L419.5 164.2 L418.6 171.4 L419.5 174.9 L415.9 180.3 L415.1 187.4M382.9 126.8 L366.9 128.5 L365.1 135.7 L357.1 136.6 L353.5 147.3 L360.6 152.6 L362.4 159.8 L371.4 162.4 L382.9 161.5M365.1 135.7 L378.5 145.5 L393.6 149.9M366.9 128.5 L358.9 123.2 L349.9 126.8M371.4 162.4 L368.7 183.8M382.9 161.5 L387.4 171.4 L396.3 178.5 L395.4 184.7M387.4 171.4 L418.6 167.8M432.9 165.1 L430.2 169.6 L437.4 178.5 L448.1 186.5 L460.0 168.7M448.1 186.5 L435.6 192.8 L430.2 197.2M419.5 174.9 L430.2 169.6M362.4 159.8 L351.7 163.3 L335.7 165.1 L333.9 158.9 L343.7 145.5 L353.5 147.3M335.7 165.1 L330.3 178.5 L328.5 183.8M334.8 170.5 L341.9 172.2 L353.5 182.1M330.3 178.5 L321.4 171.4 L306.2 170.5 L300.0 166.9M306.2 170.5 L313.4 182.1 L314.3 186.5M343.7 145.5 L340.1 134.8 L338.4 132.1M333.9 158.9 L329.4 151.7 L321.4 142.8 L320.5 138.4M321.4 142.8 L315.2 148.2 L303.6 153.5 L300.0 154.4M340.1 134.8 L348.2 141.0 L353.5 140.1 L357.1 136.6M300.0 173.1 L305.4 178.5 L308.0 183.8M338.4 189.2 L337.5 206.7M361.5 189.2 L367.8 203.5 L369.6 206.7M391.9 190.1 L385.6 196.3 L384.7 206.7M316.1 193.6 L320.5 206.7M423.1 197.2 L424.9 206.7"/>
</g>
<g clip-path="url(#cP9)"><g clip-path="url(#h10)">
<path d="M162.1 237.5 L183.5 235.7 L184.4 225.9M183.5 235.7 L184.4 257.1 L165.7 257.1 L164.8 264.2 L163.9 267.8 L167.5 275.8 L180.0 274.9M167.5 275.8 L169.3 289.2 L174.6 290.1 L171.9 293.7 L166.6 297.2M174.6 290.1 L196.9 273.2 L201.4 262.5M184.4 257.1 L198.7 258.0 L201.4 262.5 L204.1 265.1 L203.2 283.9 L208.5 285.6M198.7 258.0 L203.2 251.8 L209.4 250.0 L210.3 241.1 L206.7 232.1 L202.3 226.8M209.4 250.0 L221.9 253.5 L227.2 246.4 L229.9 242.8 L226.4 235.7 L224.6 230.4M206.7 232.1 L215.6 230.4 L224.6 230.4 L235.3 228.6M210.3 241.1 L228.1 241.1M221.9 253.5 L215.6 258.9 L207.6 263.4 L204.1 265.1M221.9 253.5 L231.7 254.4 L236.2 255.3 L233.5 261.6 L237.1 266.0 L247.8 268.7 L252.2 266.0 L254.9 263.4 L254.0 259.8 L263.8 255.3M236.2 255.3 L247.8 244.6 L262.0 249.1 L265.6 253.5 L263.8 255.3M229.9 242.8 L236.2 255.3M247.8 244.6 L246.9 238.4 L252.2 233.0 L260.2 231.2 L263.8 233.0 L266.5 244.6 L262.0 249.1M234.4 225.9 L235.3 229.5 L247.8 230.4 L252.2 233.0M266.5 244.6 L281.7 245.5 L282.5 234.8 L279.9 232.1 L263.8 233.0M282.5 234.8 L295.9 231.2M282.5 245.5 L287.0 253.5 L295.9 258.0 L301.3 262.5 L313.8 263.4M281.7 245.5 L297.7 244.6 L303.1 244.6M265.6 253.5 L270.9 260.7 L272.7 266.9 L270.9 272.3 L262.0 266.9 L254.0 263.4M270.9 260.7 L279.9 258.9 L287.9 260.7 L301.3 263.4M301.3 263.4 L290.6 274.9 L294.1 282.1 L292.4 286.5 L287.9 293.7 L288.8 295.5M270.9 272.3 L269.2 276.7 L263.8 282.1 L272.7 295.5 L279.9 301.7 L287.9 294.6M294.1 282.1 L303.1 286.5 L307.5 283.9 L312.0 286.5 L315.0 285.6M292.4 286.5 L297.7 296.4 L303.1 308.8 L313.8 305.3M303.1 308.8 L304.8 314.2 L315.0 317.8M303.1 308.8 L287.0 319.5 L283.4 320.4 L282.5 315.1 L272.7 309.7 L279.9 301.7M263.8 282.1 L257.6 274.9 L247.8 286.5 L246.0 294.6 L254.9 296.4 L269.2 295.5 L272.7 295.5M247.8 286.5 L229.9 280.3 L226.4 276.7 L237.1 266.9M226.4 276.7 L222.8 277.6 L219.2 285.6 L223.7 291.0 L229.9 280.3M208.5 285.6 L212.1 286.5 L215.6 284.8 L219.2 285.6M223.7 291.0 L229.9 296.4 L234.4 301.7 L235.3 307.1 L238.8 316.9 L244.2 328.5 L242.4 331.7M246.0 294.6 L235.3 298.1 L234.4 301.7M254.9 296.4 L255.8 303.5 L261.1 314.2 L238.8 316.9M261.1 314.2 L266.5 330.2M261.1 314.2 L272.7 312.4 L282.5 315.1M283.4 320.4 L285.2 326.7 L283.4 331.7M208.5 285.6 L205.8 296.4 L203.2 302.6 L218.3 305.3 L229.9 296.4M203.2 302.6 L193.4 309.7 L192.5 312.4 L217.4 313.3 L218.3 305.3M192.5 312.4 L191.6 324.0 L193.4 331.7M191.6 324.0 L208.5 324.9 L209.4 314.2M208.5 324.9 L217.4 326.7 L217.4 331.7M217.4 313.3 L222.8 313.3 L222.8 326.7 L217.4 326.7M186.2 296.4 L193.4 291.9 L198.7 291.0 L199.6 295.5 L197.8 299.9 L193.4 308.8 L188.9 301.7 L186.2 296.4M171.9 293.7 L180.0 292.4 L187.1 291.9 L193.4 291.9M163.9 307.9 L165.7 310.6 L193.4 309.7M170.2 312.4 L171.1 331.7M222.8 313.3 L238.8 316.9M287.0 319.5 L297.7 331.7M315.0 272.3 L312.9 267.8 L313.8 263.4"/>
</g></g>
<g clip-path="url(#cP10)">
<path d="M623.6 150.0 L627.1 154.5 L620.0 158.0M627.1 154.5 L636.9 150.9 L652.1 150.0M652.1 150.0 L658.4 157.1 L662.8 162.5 L658.4 164.3 L657.5 172.3 L651.2 175.0 L642.3 177.6 L637.8 167.8 L620.0 174.1M658.4 154.5 L671.7 155.4 L693.1 154.5 L698.5 160.7 L702.1 163.4 L694.9 166.9 L698.5 175.0 L693.1 182.1 L681.5 184.8 L674.4 183.0 L657.5 172.3M693.1 154.5 L707.4 150.0M698.5 175.0 L714.5 185.7 L730.6 191.9M698.5 160.7 L714.5 155.4 L716.3 159.8 L722.6 154.5 L738.6 156.2 L747.5 183.0M730.6 150.0 L738.6 156.2M714.5 185.7 L685.1 200.8 L680.6 199.1 L672.6 196.4 L673.5 191.9 L669.9 187.5 L681.5 184.8M685.1 200.8 L690.5 202.6 L689.6 207.1 L661.0 212.4M640.5 181.2 L636.9 183.9 L637.8 187.5 L623.6 197.3 L620.0 188.4M640.5 181.2 L651.2 175.0M637.8 187.5 L661.0 193.7 L661.9 212.4 L661.9 218.7M623.6 197.3 L627.1 201.7 L628.0 199.1 L643.2 202.6 L646.8 204.4 L653.9 203.5 L661.0 211.5M627.1 201.7 L626.2 216.9 L633.4 232.9M620.0 216.9 L626.2 216.9M707.4 150.0 L714.5 155.4"/>
</g>
<g clip-path="url(#cP12)">
<path d="M240.0 316.1 L261.4 313.4 L255.2 300.0M261.4 313.4 L266.8 329.4 L264.1 333.0 L256.9 335.7 L250.7 341.9 L251.6 345.5 L256.9 358.0 L257.8 362.4M261.4 313.4 L272.1 312.5 L282.8 314.3M266.8 329.4 L283.7 325.0M282.8 314.3 L284.6 321.4 L283.7 325.0 L287.3 332.1 L291.7 338.4 L298.9 335.7 L303.3 338.4 L310.5 337.5 L319.4 336.6M282.8 314.3 L293.5 310.7 L302.4 309.8 L300.6 300.0M302.4 309.8 L307.8 315.2 L314.9 317.8 L318.5 326.8 L319.4 336.6M314.9 317.8 L318.5 314.3 L329.2 308.0 L337.2 306.2M337.2 306.2 L333.6 319.6 L332.8 334.8 L327.4 336.6 L319.4 336.6M337.2 306.2 L347.0 308.0 L354.2 308.9M266.8 329.4 L273.0 341.9 L275.7 351.7 L288.2 378.5 L289.9 379.4M256.9 358.0 L275.7 351.7M291.7 338.4 L304.2 344.6 L310.5 352.6 L312.2 356.2 L307.8 363.3 L303.3 370.5 L289.9 379.4M312.2 356.2 L316.7 351.7 L322.1 346.4 L319.4 336.6M312.2 357.1 L327.4 360.6 L327.4 367.8 L311.4 369.6M311.4 369.6 L314.0 383.8 L316.7 391.0M322.9 368.7 L321.2 385.6 L322.1 391.9M327.4 367.8 L331.0 369.6 L337.2 367.8 L339.9 358.9 L346.1 353.5 L351.5 350.8M332.8 334.8 L343.5 335.7 L346.1 343.7 L350.6 348.2 L351.5 350.8M337.2 368.7 L340.8 380.3 L337.2 393.6M257.8 362.4 L266.8 371.4 L269.4 378.5 L268.5 381.2 L271.2 387.4 L276.6 394.5 L289.9 379.4M257.8 362.4 L251.6 370.5 L240.0 370.5M250.7 370.5 L250.7 381.2 L269.4 380.3M250.7 381.2 L250.7 401.7M240.0 387.4 L250.7 387.4M276.6 394.5 L278.4 399.0 L288.2 401.7 L298.9 402.6 L308.7 393.6 L316.7 391.0 L322.1 391.9 L337.2 393.6 L347.0 397.2 L354.2 402.6M289.9 379.4 L300.6 385.6 L308.7 393.6M322.1 391.9 L323.8 399.0 L319.4 399.9M240.0 343.7 L243.6 344.6 L242.7 354.4 L240.0 356.2M256.9 402.6 L259.6 404.4 L267.6 404.9M243.6 344.6 L250.7 341.9"/>
</g>
<g clip-path="url(#cP13)">
<path d="M300.0 84.6 L307.1 81.9 L313.4 78.4 L323.2 77.5 L326.8 79.3 L333.0 73.0M326.8 79.3 L332.1 90.0 L331.2 94.4M332.1 90.0 L342.8 84.6 L353.5 80.2 L363.3 75.7 L368.7 74.8 L371.4 76.6M363.3 75.7 L371.4 84.6 L374.9 91.8 L376.7 95.3M391.0 73.9 L394.5 79.3 L398.1 84.6 L383.8 87.3M398.1 84.6 L412.4 84.6 L442.7 76.6 L444.5 73.9M412.4 84.6 L418.6 91.8 L423.1 91.8 L421.3 94.4M439.1 77.5 L448.9 89.1 L440.9 94.4M448.9 89.1 L460.0 81.1M329.4 73.9 L333.0 74.8 L332.1 77.5"/>
</g>
</g>
<g fill="none" stroke="#000" stroke-width="3.5" stroke-linejoin="round" stroke-linecap="butt">
<polyline points="163.0,96.2 355.0,97.6 455.0,99.3 555.0,100.5 650.0,100.2 741.0,99.5"/>
<polyline points="247.2,95.4 255.0,92.8 266.1,90.6 276.1,88.3 281.7,83.9 288.3,80.6 296.1,78.8 297.9,73.2"/>
<polyline points="206.6,199.0 207.9,185.0 210.6,181.7 220.6,179.4 222.8,173.9 226.1,169.4 232.8,165.0 239.4,162.3 248.3,160.6 257.2,159.4 266.1,155.0 275.0,150.6 283.9,147.2 292.8,141.7 297.2,137.2 302.8,136.1 310.6,131.7 313.9,137.2 319.4,133.9 330.6,128.3 339.4,126.1 348.3,126.1 355.0,118.3 355.0,119.4 361.7,115.0 369.4,111.7 371.7,105.0 371.0,98.3"/>
<polyline points="163.0,199.2 282.0,199.2"/>
<polyline points="281.7,199.2 286.0,197.9 293.0,195.0 310.5,189.4 324.0,186.0 339.4,184.6 355.0,184.6 383.9,186.8 399.4,187.2 410.6,188.3 411.7,193.9 419.4,191.7 426.1,197.9 425.0,198.0 428.3,202.4 429.4,209.1 443.9,209.6 466.1,209.6 488.3,210.2 499.4,211.3 510.6,220.2 523.9,232.4 537.2,244.7 548.3,253.6 555.0,259.1 563.9,264.7 571.7,272.4"/>
<polyline points="281.7,199.1 275.0,204.7 268.3,210.2 265.4,215.8 270.6,220.2 279.4,225.8 288.3,230.9 296.1,232.4 301.7,240.2 307.2,249.1 312.8,258.0 319.4,264.7 328.3,272.4 337.2,281.3 345.0,286.9 355.0,294.7 359.4,305.6 366.1,312.2 375.0,317.8 381.7,323.3 386.1,331.1 389.4,340.0 391.7,347.8 398.3,354.4 402.8,360.0 406.1,366.7 407.2,375.6 409.4,381.1 416.1,383.3 423.9,385.6"/>
<polyline points="713.3,72.8 721.1,75.0 733.3,75.4 735.6,82.8 740.0,96.1 744.4,111.7 748.9,122.8 756.7,136.1 763.3,147.2 766.7,153.9 767.1,162.8 765.6,171.7 763.3,181.7 755.6,183.9 746.7,187.2 737.8,191.7 728.9,197.9 727.2,198.0 719.4,203.6 710.6,210.2 702.8,216.9 698.3,224.7 696.1,219.1 690.6,216.9 681.7,216.9 670.6,218.4 659.4,221.3 648.3,226.9 639.4,231.3 630.6,238.0 623.9,243.6 617.2,250.2 612.8,258.0 609.4,264.7 607.2,270.2 603.9,266.9 595.0,265.8 583.9,266.9 572.8,269.6 563.1,272.5 556.0,277.5 547.0,286.4 538.1,293.5 532.8,298.9 531.9,307.8 527.4,314.0 520.3,318.5 511.4,322.0 504.2,324.7 502.4,329.2 495.3,334.5 488.2,339.9 482.8,346.7 477.2,350.0 466.1,354.4 457.2,357.8 450.6,358.9 451.7,366.7 447.2,370.0 437.2,371.1 431.7,370.0 432.8,375.6 428.3,381.1 423.9,385.6 423.9,385.6 421.7,393.3 415.0,398.9 410.6,403.3"/>
</g>
<rect x="160.6" y="356.6" width="4.4" height="7.8" fill="#000"/>
<polygon points="161.2,373.5 165.5,368.8 169.6,373 165.5,378" fill="#000"/>
<rect x="130.6" y="55.4" width="696.5" height="365.1" fill="none" stroke="#000" stroke-width="1.9"/>
<path d="M162.2 420.5 V426.8M225.5 420.5 V426.8M288.8 420.5 V426.8M352.0 420.5 V426.8M415.3 420.5 V426.8M478.6 420.5 V426.8M541.9 420.5 V426.8M605.2 420.5 V426.8M668.4 420.5 V426.8M731.7 420.5 V426.8M795.0 420.5 V426.8M130.6 388.0 H124.3M130.6 324.6 H124.3M130.6 261.2 H124.3M130.6 197.8 H124.3M130.6 134.4 H124.3M130.6 71.0 H124.3" stroke="#333" stroke-width="1.5" fill="none"/>
<text transform="translate(161.60,445.60) scale(1.070,1)" font-size="16.4" fill="#4D4D4D" text-anchor="middle">-85</text>
<text transform="translate(224.88,445.60) scale(1.070,1)" font-size="16.4" fill="#4D4D4D" text-anchor="middle">-84</text>
<text transform="translate(288.16,445.60) scale(1.070,1)" font-size="16.4" fill="#4D4D4D" text-anchor="middle">-83</text>
<text transform="translate(351.44,445.60) scale(1.070,1)" font-size="16.4" fill="#4D4D4D" text-anchor="middle">-82</text>
<text transform="translate(414.72,445.60) scale(1.070,1)" font-size="16.4" fill="#4D4D4D" text-anchor="middle">-81</text>
<text transform="translate(478.00,445.60) scale(1.070,1)" font-size="16.4" fill="#4D4D4D" text-anchor="middle">-80</text>
<text transform="translate(541.28,445.60) scale(1.070,1)" font-size="16.4" fill="#4D4D4D" text-anchor="middle">-79</text>
<text transform="translate(604.56,445.60) scale(1.070,1)" font-size="16.4" fill="#4D4D4D" text-anchor="middle">-78</text>
<text transform="translate(667.84,445.60) scale(1.070,1)" font-size="16.4" fill="#4D4D4D" text-anchor="middle">-77</text>
<text transform="translate(731.12,445.60) scale(1.070,1)" font-size="16.4" fill="#4D4D4D" text-anchor="middle">-76</text>
<text transform="translate(794.40,445.60) scale(1.070,1)" font-size="16.4" fill="#4D4D4D" text-anchor="middle">-75</text>
<text transform="translate(120.30,393.90) scale(1.070,1)" font-size="16.4" fill="#4D4D4D" text-anchor="end">32</text>
<text transform="translate(120.30,330.50) scale(1.070,1)" font-size="16.4" fill="#4D4D4D" text-anchor="end">33</text>
<text transform="translate(120.30,267.10) scale(1.070,1)" font-size="16.4" fill="#4D4D4D" text-anchor="end">34</text>
<text transform="translate(120.30,203.70) scale(1.070,1)" font-size="16.4" fill="#4D4D4D" text-anchor="end">35</text>
<text transform="translate(120.30,140.30) scale(1.070,1)" font-size="16.4" fill="#4D4D4D" text-anchor="end">36</text>
<text transform="translate(120.30,76.90) scale(1.070,1)" font-size="16.4" fill="#4D4D4D" text-anchor="end">37</text>
<text transform="translate(477.50,468.70) scale(1.000,1)" font-size="17.7" fill="#000" text-anchor="middle">Longitude</text>
<text transform="translate(91.40,237.80) rotate(-90) scale(1.000,1)" font-size="17.7" fill="#000" text-anchor="middle">Latitude</text>
<text transform="translate(477.90,30.60) scale(1.000,1)" font-size="24.85" fill="#000" text-anchor="middle" font-weight="bold">24-Month SPI for January 1927</text>
<rect x="129.00" y="499" width="105.29" height="29.6" fill="#8C510A"/>
<text transform="translate(181.84,546.20) scale(0.950,1)" font-size="15.2" fill="#000" text-anchor="middle">Extreme Dry</text>
<text transform="translate(181.84,563.20) scale(0.950,1)" font-size="15.2" fill="#000" text-anchor="middle">(≤ -2.0)</text>
<rect x="235.29" y="499" width="105.29" height="29.6" fill="#D8B365"/>
<text transform="translate(288.13,546.20) scale(0.950,1)" font-size="15.2" fill="#000" text-anchor="middle">Severe Dry</text>
<text transform="translate(288.13,563.20) scale(0.950,1)" font-size="15.2" fill="#000" text-anchor="middle">(-2.0 to -1.5)</text>
<rect x="341.57" y="499" width="105.29" height="29.6" fill="#F6E8C3"/>
<text transform="translate(394.41,546.20) scale(0.950,1)" font-size="15.2" fill="#000" text-anchor="middle">Moderate Dry</text>
<text transform="translate(394.41,563.20) scale(0.950,1)" font-size="15.2" fill="#000" text-anchor="middle">(-1.5 to -1.0)</text>
<rect x="447.86" y="499" width="105.29" height="29.6" fill="#F5F5F5"/>
<text transform="translate(500.70,546.20) scale(0.950,1)" font-size="15.2" fill="#000" text-anchor="middle">Near Normal</text>
<text transform="translate(500.70,563.20) scale(0.950,1)" font-size="15.2" fill="#000" text-anchor="middle">(-1.0 to +1.0)</text>
<rect x="554.14" y="499" width="105.29" height="29.6" fill="#C7EAE5"/>
<text transform="translate(606.99,546.20) scale(0.950,1)" font-size="15.2" fill="#000" text-anchor="middle">Moderate Wet</text>
<text transform="translate(606.99,563.20) scale(0.950,1)" font-size="15.2" fill="#000" text-anchor="middle">(+1.0 to +1.5)</text>
<rect x="660.43" y="499" width="105.29" height="29.6" fill="#5AB4AC"/>
<text transform="translate(713.27,546.20) scale(0.950,1)" font-size="15.2" fill="#000" text-anchor="middle">Severe Wet</text>
<text transform="translate(713.27,563.20) scale(0.950,1)" font-size="15.2" fill="#000" text-anchor="middle">(+1.5 to +2.0)</text>
<rect x="766.71" y="499" width="105.29" height="29.6" fill="#01665E"/>
<text transform="translate(819.56,546.20) scale(0.950,1)" font-size="15.2" fill="#000" text-anchor="middle">Extreme Wet</text>
<text transform="translate(819.56,563.20) scale(0.950,1)" font-size="15.2" fill="#000" text-anchor="middle">(≥ +2.0)</text>
<text transform="translate(84.60,540.00) scale(0.880,1)" font-size="24" fill="#000" text-anchor="start">SPI</text>
</svg></body></html>
